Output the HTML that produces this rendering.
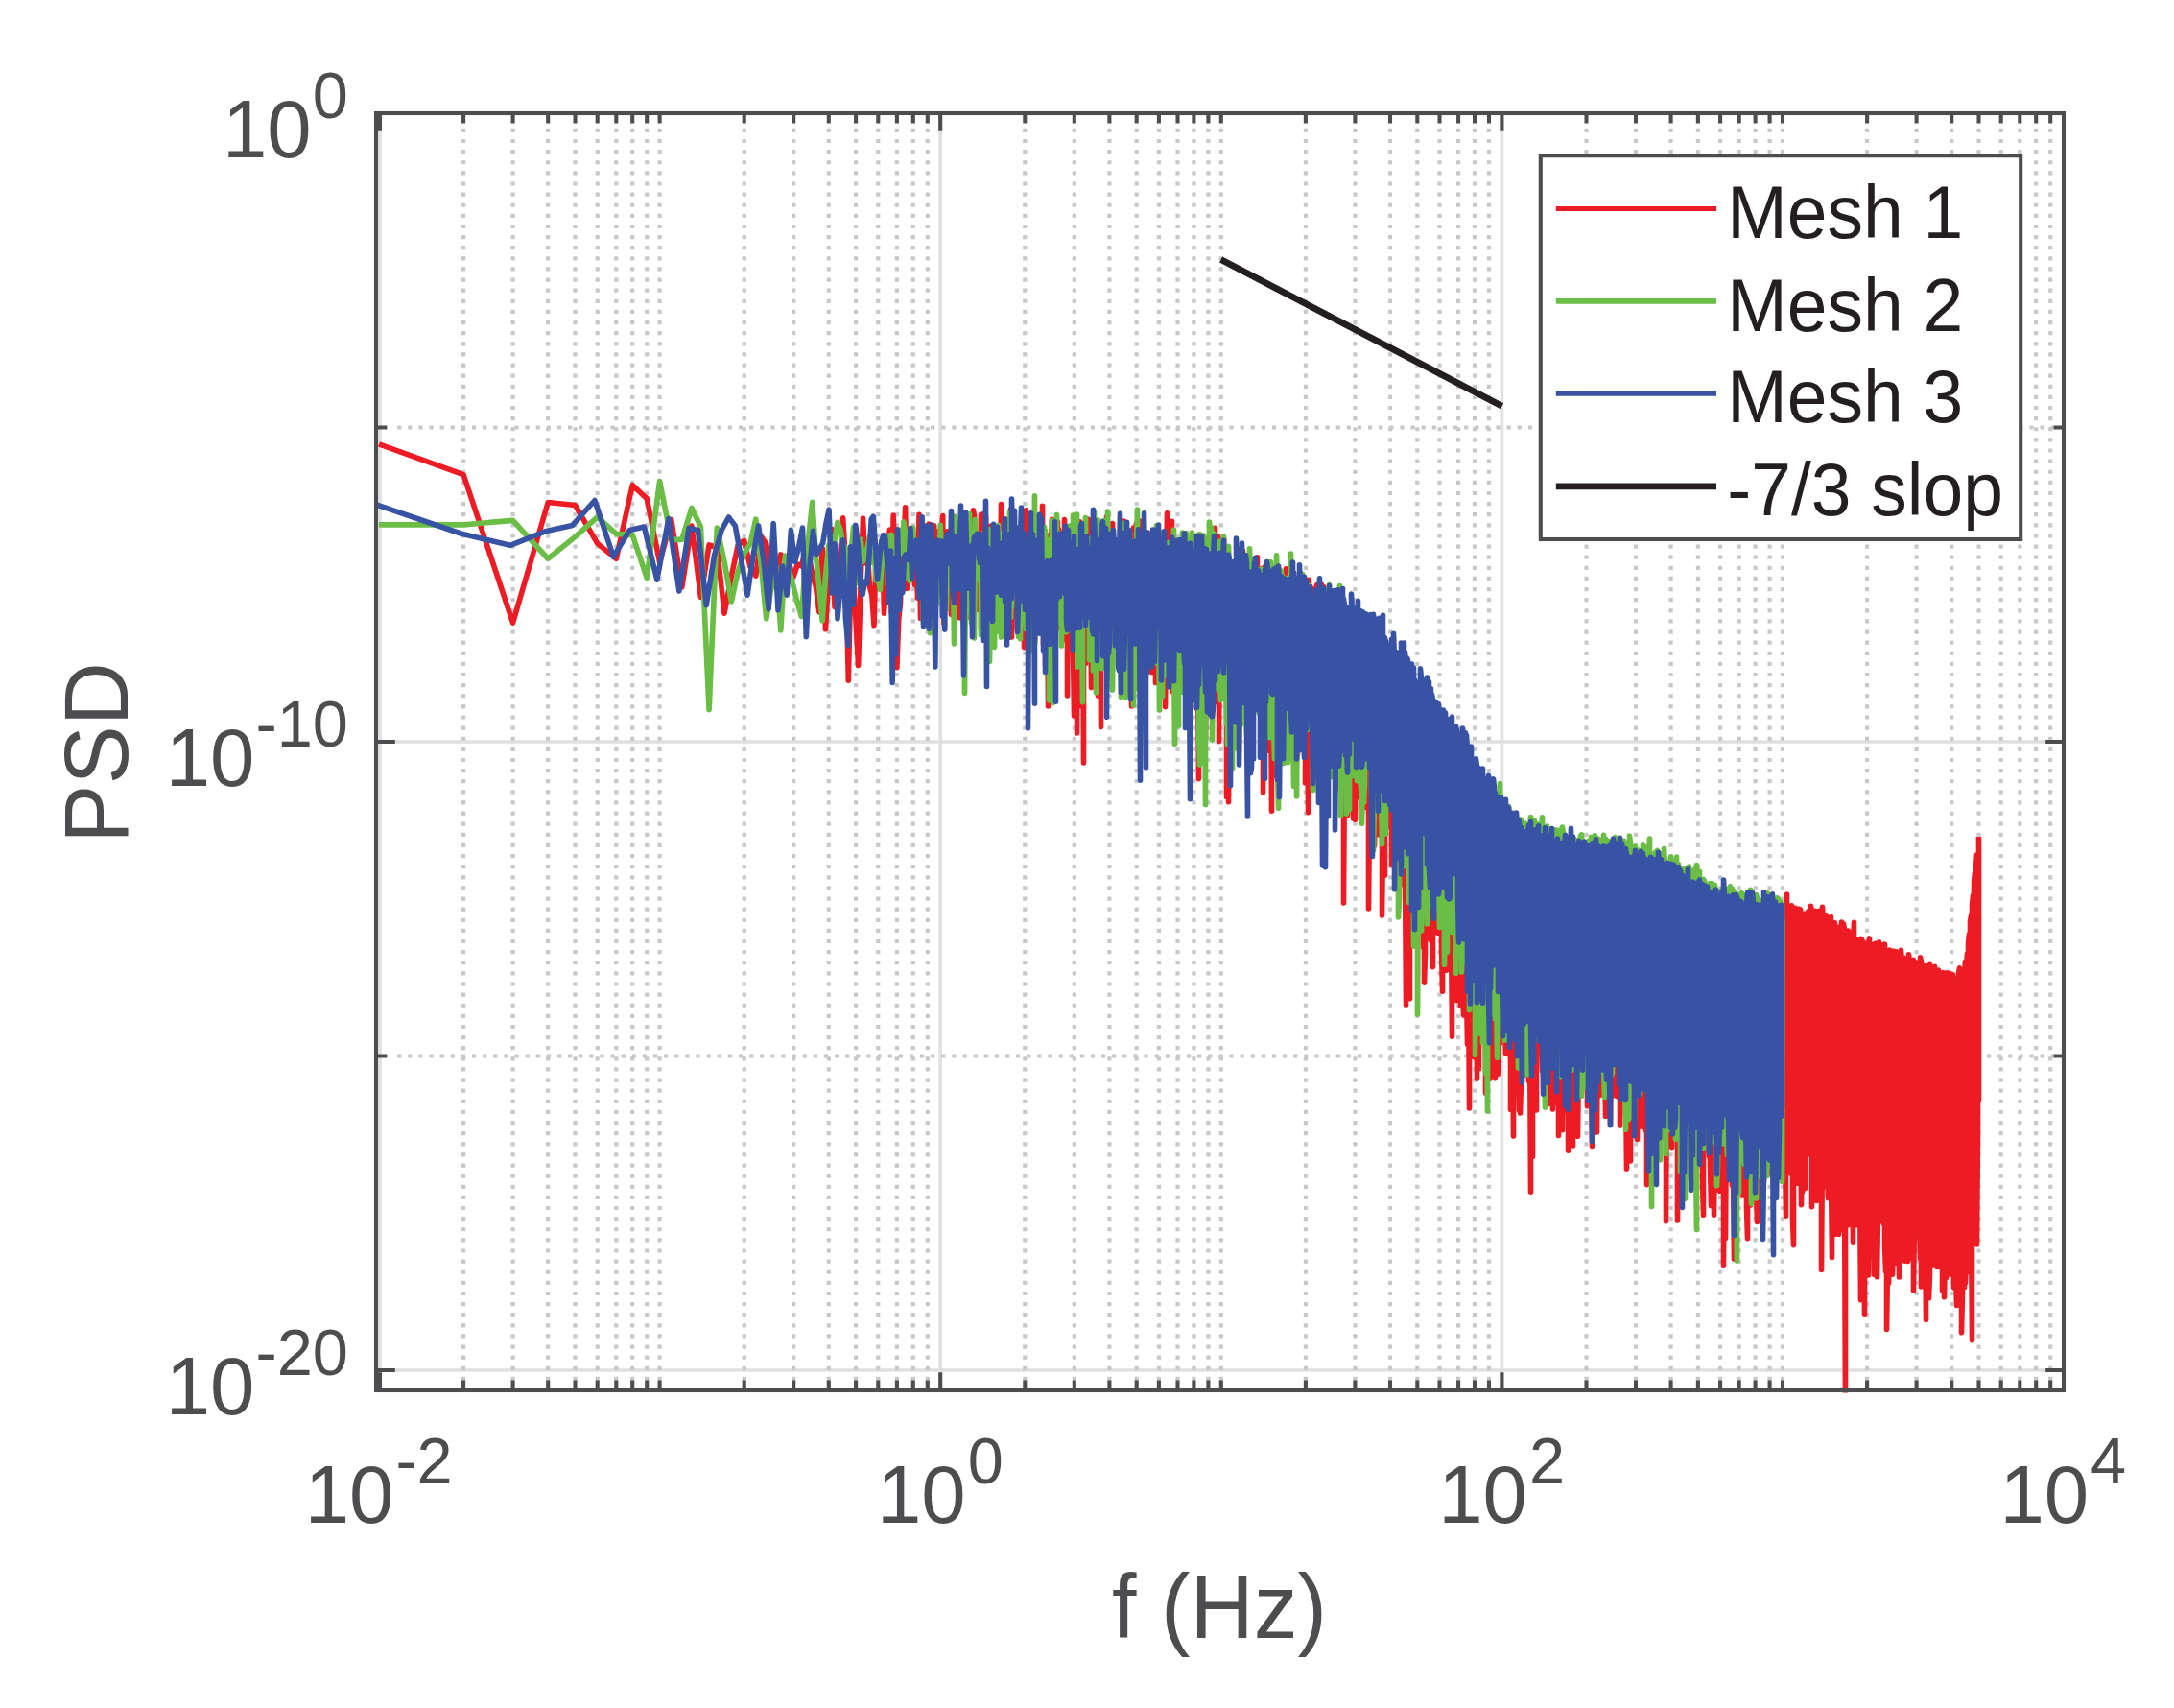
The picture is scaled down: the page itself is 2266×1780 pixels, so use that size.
<!DOCTYPE html>
<html lang="en">
<head>
<meta charset="utf-8">
<title>PSD spectra - mesh comparison</title>
<style>
html,body{margin:0;padding:0;background:#fff;}
body{width:2266px;height:1780px;overflow:hidden;font-family:"Liberation Sans",sans-serif;}
svg{display:block;}
svg text{font-family:"Liberation Sans",sans-serif;}
</style>
</head>
<body>
<svg width="2266" height="1780" viewBox="0 0 2266 1780">
<rect x="0" y="0" width="2266" height="1780" fill="#ffffff"/>
<defs>
<clipPath id="axclip"><rect x="392.0" y="118.0" width="1759.0" height="1333.5"/></clipPath>
</defs>
<g fill="none" stroke-width="4.2">
<path d="M396.0 118.0V1449.0M980.2 118.0V1449.0M1565.4 118.0V1449.0M392.0 773.0H2151.0M392.0 1428.0H2151.0" stroke="#dfe0e1" stroke-width="3.6"/>
<path d="M483.1 133.8V1449.0M534.6 133.8V1449.0M571.2 133.8V1449.0M599.5 133.8V1449.0M622.7 133.8V1449.0M642.3 133.8V1449.0M659.2 133.8V1449.0M674.2 133.8V1449.0M775.7 133.8V1449.0M827.2 133.8V1449.0M863.8 133.8V1449.0M892.1 133.8V1449.0M915.3 133.8V1449.0M934.9 133.8V1449.0M951.8 133.8V1449.0M966.8 133.8V1449.0M1068.3 133.8V1449.0M1119.8 133.8V1449.0M1156.4 133.8V1449.0M1184.7 133.8V1449.0M1207.9 133.8V1449.0M1227.5 133.8V1449.0M1244.4 133.8V1449.0M1259.4 133.8V1449.0M1360.9 133.8V1449.0M1412.4 133.8V1449.0M1449.0 133.8V1449.0M1477.3 133.8V1449.0M1500.5 133.8V1449.0M1520.1 133.8V1449.0M1537.0 133.8V1449.0M1552.0 133.8V1449.0M1653.5 133.8V1449.0M1705.0 133.8V1449.0M1741.6 133.8V1449.0M1769.9 133.8V1449.0M1793.1 133.8V1449.0M1812.7 133.8V1449.0M1829.6 133.8V1449.0M1844.6 133.8V1449.0M1946.1 133.8V1449.0M1997.6 133.8V1449.0M2034.2 133.8V1449.0M2062.5 133.8V1449.0M2085.7 133.8V1449.0M2105.3 133.8V1449.0M2122.2 133.8V1449.0M2137.2 133.8V1449.0M687.6 133.8V1449.0M1272.8 133.8V1449.0M1858.0 133.8V1449.0" stroke="#c7c8ca" stroke-dasharray="4.2 6.92"/>
<path d="M414.1 445.5H2151.0M414.1 1100.5H2151.0" stroke="#c7c8ca" stroke-dasharray="4.2 6.92"/>
</g>
<g clip-path="url(#axclip)" fill="none" stroke-linejoin="round" stroke-linecap="butt">
<path d="M395.0 462.8L483.1 494.7L534.6 649.0L571.2 523.5L599.5 526.5L622.7 566.3L642.3 582.3L659.2 505.6L674.2 519.6L687.6 586.0L699.7 541.5L710.8 612.0L720.9 548.0L730.4 622.4L739.1 567.9L747.3 570.0L755.0 639.1L762.3 601.0L769.2 567.9L775.7 563.4L781.9 590.0L787.8 600.0L793.4 559.0L798.8 566.8L804.0 612.4L809.0 601.0L813.8 577.9L818.4 582.0L822.9 590.0L827.2 601.0L831.4 588.0L835.4 590.0L839.3 574.6L843.1 579.0L846.8 599.0L850.4 612.0L853.9 638.0L857.2 571.2L860.5 655.8L863.8 601.0L866.9 551.2L870.0 632.4L873.0 590.0L875.9 575.3L878.7 539.7L881.5 586.8L884.3 709.2L886.9 602.5L889.6 607.1L892.1 648.7L894.6 693.5L897.1 609.7L899.5 540.0L901.9 586.8L904.2 573.1L906.5 611.5L908.8 619.9L911.0 651.7L913.2 574.5L915.3 584.6L917.4 590.3L919.5 564.7L921.5 639.2L923.5 604.9L925.5 570.1L927.4 552.1L929.3 638.7L931.2 537.1L933.0 583.9L934.9 695.6L936.7 645.6L938.5 628.5L940.2 561.8L941.9 571.8L943.6 528.8L945.3 613.5L947.0 604.5L948.6 568.0L950.2 582.0L951.8 567.3L953.4 609.4L955.0 579.5L956.5 623.2L958.0 536.4L959.5 644.4L961.0 624.1L962.5 568.8L964.0 642.5L965.4 556.3L966.8 568.6L968.2 546.1L969.6 563.5L971.0 576.3L972.3 606.2L973.7 547.8L975.0 595.9L976.3 573.5L977.6 605.6L978.9 553.4L980.2 577.1L981.5 554.7L982.7 537.6L984.0 650.3L985.5 558.4L986.5 580.9L987.5 553.8L988.5 569.5L989.5 599.8L991.5 640.4L992.5 538.2L993.5 586.4L994.5 601.0L995.5 547.5L996.5 612.8L997.5 547.4L999.5 575.0L1000.5 643.9L1001.5 639.8L1002.5 539.9L1003.5 570.1L1004.5 622.5L1005.5 583.5L1006.5 639.8L1007.5 619.4L1008.5 633.8L1009.5 542.6L1010.5 574.3L1011.5 643.6L1012.5 635.1L1013.5 619.4L1014.5 531.9L1015.5 537.4L1016.5 566.7L1017.5 635.6L1018.5 605.4L1019.5 578.8L1020.5 610.1L1021.5 610.3L1022.5 536.3L1022.5 654.9L1023.5 556.8L1024.5 535.9L1025.5 594.2L1026.5 594.4L1027.5 538.0L1028.5 589.1L1029.5 612.7L1030.5 639.9L1030.5 566.8L1031.5 592.4L1032.5 548.3L1033.5 581.2L1034.5 640.6L1035.5 557.4L1035.5 601.1L1036.5 561.6L1037.5 616.9L1038.5 581.6L1039.5 574.9L1039.5 567.6L1040.5 622.1L1041.5 630.5L1042.5 595.1L1043.5 525.5L1043.5 642.0L1044.5 589.8L1045.5 542.8L1046.5 657.3L1046.5 582.6L1047.5 613.3L1048.5 600.8L1049.5 582.2L1049.5 612.3L1050.5 546.1L1051.5 588.9L1052.5 626.2L1052.5 564.5L1053.5 530.7L1054.5 579.3L1054.5 663.9L1055.5 546.1L1056.5 558.8L1056.5 554.4L1057.5 590.0L1058.5 553.1L1059.5 571.0L1059.5 576.1L1060.5 655.7L1061.5 596.8L1061.5 595.6L1062.5 575.1L1063.5 554.4L1063.5 580.3L1064.5 581.4L1065.5 613.6L1065.5 602.6L1066.5 596.5L1067.5 600.7L1067.5 674.6L1068.5 585.8L1068.5 570.2L1069.5 531.8L1070.5 559.6L1070.5 618.3L1071.5 586.4L1072.5 600.6L1072.5 580.0L1073.5 579.1L1073.5 625.0L1074.5 566.6L1075.5 676.9L1075.5 591.5L1076.5 576.6L1076.5 647.6L1077.5 561.6L1078.5 668.4L1078.5 568.5L1079.5 564.2L1079.5 626.8L1080.5 587.8L1080.5 566.6L1081.5 572.3L1082.5 552.7L1082.5 637.3L1083.5 647.3L1083.5 553.2L1084.5 592.1L1084.5 622.4L1085.5 546.2L1086.5 577.1L1086.5 527.3L1087.5 658.3L1087.5 672.0L1088.5 608.5L1088.5 578.3L1089.5 661.6L1089.5 693.2L1090.5 614.5L1090.5 607.4L1091.5 558.1L1091.5 613.7L1092.5 735.9L1093.5 645.8L1093.5 617.1L1094.5 577.8L1094.5 581.6L1095.5 589.5L1095.5 564.7L1096.5 541.4L1096.5 621.1L1097.5 642.4L1097.5 593.0L1098.5 565.2L1098.5 613.9L1099.5 660.3L1099.5 588.6L1100.5 549.0L1100.5 597.0L1101.5 630.2L1101.5 606.7L1102.5 543.9L1102.5 588.5L1103.5 556.0L1103.5 551.6L1104.5 558.7L1104.5 654.4L1105.5 617.9L1105.5 572.9L1106.5 577.2L1106.5 625.2L1107.5 615.1L1107.5 596.1L1108.5 613.6L1108.5 618.1L1109.5 666.7L1109.5 541.6L1110.5 576.7L1110.5 633.3L1111.5 625.1L1111.5 583.1L1112.5 671.8L1112.5 725.0L1113.5 602.0L1113.5 563.5L1114.5 584.6L1114.5 587.5L1115.5 598.5L1115.5 582.1L1116.5 586.9L1116.5 633.2L1117.5 643.4L1117.5 623.8L1118.5 558.8L1118.5 678.2L1119.5 745.9L1119.5 614.9L1120.5 574.1L1120.5 625.9L1121.5 657.2L1121.5 573.3L1122.5 552.8L1122.5 764.0L1123.5 637.0L1123.5 589.8L1124.5 636.9L1124.5 688.5L1125.5 671.6L1125.5 543.8L1126.5 602.6L1126.5 735.6L1127.5 596.0L1127.5 580.8L1128.5 551.6L1128.5 577.2L1129.5 795.1L1129.5 613.7L1130.5 587.0L1130.5 592.9L1131.5 691.5L1131.5 572.8L1132.5 547.8L1132.5 578.0L1133.5 613.0L1133.5 557.6L1134.5 541.4L1134.5 637.9L1135.5 584.0L1135.5 573.8L1136.5 589.5L1136.5 604.1L1137.5 716.6L1137.5 577.9L1138.5 556.2L1138.5 634.4L1139.5 662.9L1139.5 586.5L1140.5 572.4L1140.5 658.4L1141.5 638.0L1141.5 556.7L1142.5 572.3L1142.5 589.9L1143.5 698.8L1143.5 617.6L1144.5 575.7L1144.5 724.9L1145.5 629.8L1145.5 547.9L1146.5 573.1L1146.5 591.3L1147.5 757.6L1147.5 592.5L1148.5 570.1L1148.5 643.1L1149.5 648.9L1149.5 578.2L1150.5 573.7L1150.5 687.9L1151.5 628.7L1151.5 579.7L1152.5 573.6L1152.5 632.7L1153.5 562.2L1153.5 538.5L1154.5 570.0L1154.5 633.5L1155.5 632.3L1155.5 574.4L1156.5 585.6L1156.5 646.6L1157.5 638.3L1157.5 574.1L1158.5 596.7L1158.5 657.6L1159.5 616.0L1159.5 545.5L1160.5 579.9L1160.5 625.6L1161.5 655.1L1161.5 569.0L1162.5 586.0L1162.5 626.0L1163.5 610.0L1163.5 584.4L1164.5 577.6L1164.5 632.1L1165.5 602.3L1165.5 565.8L1166.5 595.1L1166.5 638.5L1167.5 613.7L1167.5 572.1L1168.5 548.9L1168.5 612.8L1169.5 608.1L1169.5 570.9L1170.5 581.1L1170.5 702.4L1171.5 673.6L1171.5 543.0L1172.5 548.0L1172.5 639.9L1173.5 665.4L1173.5 631.5L1174.5 574.9L1174.5 710.9L1175.5 604.5L1175.5 560.8L1176.5 603.5L1176.5 652.9L1177.5 652.9L1177.5 581.7L1178.5 592.3L1178.5 631.9L1179.5 735.9L1179.5 604.7L1180.5 567.8L1180.5 644.3L1181.5 643.0L1181.5 550.1L1182.5 600.6L1182.5 679.0L1183.5 614.8L1183.5 549.6L1184.5 545.3L1184.5 601.7L1185.5 626.9L1185.5 596.0L1186.5 576.1L1186.5 696.5L1187.5 610.4L1187.5 542.8L1188.5 561.3L1188.5 620.8L1189.5 628.2L1189.5 566.8L1190.5 553.4L1190.5 676.4L1191.5 655.2L1191.5 590.0L1192.5 576.2L1192.5 673.2L1193.5 636.3L1193.5 591.3L1194.5 584.1L1194.5 680.8L1195.5 664.1L1195.5 577.5L1196.5 579.3L1196.5 646.6L1197.5 626.1L1197.5 555.8L1198.5 579.7L1198.5 628.8L1199.5 665.0L1199.5 594.9L1200.5 579.7L1200.5 700.4L1201.5 636.7L1201.5 561.5L1202.5 597.9L1202.5 682.9L1203.5 696.3L1203.5 570.8L1204.5 578.4L1204.5 711.4L1205.5 694.6L1205.5 615.9L1206.5 588.0L1206.5 655.3L1207.5 682.1L1207.5 588.6L1208.5 606.1L1208.5 654.4L1209.5 703.1L1209.5 579.4L1210.5 555.7L1210.5 668.3L1211.5 696.1L1211.5 601.3L1212.5 585.2L1212.5 647.1L1213.5 629.5L1213.5 586.6L1214.5 583.7L1214.5 736.6L1215.5 653.2L1215.5 590.6L1216.5 534.8L1216.5 653.3L1217.5 670.7L1217.5 566.5L1218.5 579.4L1218.5 627.9L1219.5 645.1L1219.5 584.8L1220.5 547.3L1220.5 691.4L1221.5 672.3L1221.5 543.3L1222.5 622.9L1222.5 721.1L1223.5 671.4L1223.5 579.8L1224.5 602.7L1224.5 666.5L1225.5 639.7L1225.5 579.3L1226.5 579.1L1226.5 692.0L1227.5 694.2L1227.5 570.6L1228.5 570.2L1228.5 666.4L1229.5 701.1L1229.5 568.4L1230.5 582.3L1230.5 625.1L1231.5 661.0L1231.5 573.8L1232.5 601.2L1232.5 699.8L1233.5 673.6L1233.5 558.7L1234.5 588.6L1234.5 676.9L1235.5 637.6L1235.5 589.4L1236.5 619.9L1236.5 696.6L1237.5 692.6L1237.5 562.5L1238.5 568.3L1238.5 624.9L1239.5 648.6L1239.5 583.9L1240.5 583.1L1240.5 710.4L1241.5 661.4L1241.5 631.8L1242.5 563.4L1242.5 680.5L1243.5 635.7L1243.5 595.9L1244.5 573.7L1244.5 662.2L1245.5 722.8L1245.5 584.2L1246.5 583.8L1246.5 647.3L1247.5 738.4L1247.5 589.9L1248.5 573.1L1248.5 704.0L1249.5 811.6L1249.5 585.3L1250.5 587.4L1250.5 664.8L1251.5 629.6L1251.5 587.9L1252.5 573.5L1252.5 638.0L1253.5 650.2L1253.5 570.8L1254.5 561.1L1254.5 757.7L1255.5 674.3L1255.5 572.8L1256.5 592.0L1256.5 769.8L1257.5 679.2L1257.5 562.4L1258.5 582.9L1258.5 666.6L1259.5 689.3L1259.5 581.8L1260.5 589.4L1260.5 694.5L1261.5 684.1L1261.5 577.9L1262.5 618.9L1262.5 718.6L1263.5 647.4L1263.5 585.5L1264.5 557.9L1264.5 627.6L1265.5 638.7L1265.5 592.1L1266.5 550.4L1266.5 661.5L1267.5 667.4L1267.5 610.6L1268.5 580.1L1268.5 671.3L1269.5 732.4L1269.5 559.0L1270.5 565.0L1270.5 772.6L1271.5 635.4L1271.5 594.8L1272.5 582.8L1272.5 644.6L1273.5 680.9L1273.5 577.1L1274.5 609.2L1274.5 713.7L1275.5 667.2L1275.5 561.4L1276.5 600.9L1276.5 690.3L1277.5 652.5L1277.5 587.8L1278.5 581.4L1278.5 830.5L1279.5 711.3L1279.5 600.0L1280.5 598.1L1280.5 835.7L1281.5 757.4L1281.5 583.9L1282.5 587.6L1282.5 707.3L1283.5 712.1L1283.5 598.4L1284.5 589.6L1284.5 663.3L1285.5 652.2L1285.5 588.2L1286.5 588.3L1286.5 701.8L1287.5 696.2L1287.5 608.3L1288.5 584.6L1288.5 732.5L1289.5 686.4L1289.5 593.5L1290.5 588.7L1290.5 734.0L1291.5 783.4L1291.5 572.3L1292.5 605.6L1292.5 715.2L1293.5 719.6L1293.5 586.2L1294.5 606.1L1294.5 704.7L1295.5 692.5L1295.5 574.2L1296.5 609.9L1296.5 664.8L1297.5 709.7L1297.5 596.4L1298.5 599.6L1298.5 684.9L1299.5 735.5L1299.5 591.2L1300.5 587.0L1300.5 688.7L1301.5 719.2L1301.5 593.8L1302.5 595.2L1302.5 701.7L1303.5 753.6L1303.5 605.3L1304.5 592.2L1304.5 705.9L1305.5 741.8L1305.5 585.3L1306.5 595.9L1306.5 724.3L1307.5 724.8L1307.5 590.9L1308.5 608.6L1308.5 688.4L1309.5 693.7L1309.5 596.6L1310.5 580.9L1310.5 726.7L1311.5 715.9L1311.5 606.0L1312.5 599.3L1312.5 699.4L1313.5 694.2L1313.5 611.0L1314.5 618.2L1314.5 684.3L1315.5 782.7L1315.5 592.6L1316.5 608.0L1316.5 825.7L1317.5 674.7L1317.5 607.7L1318.5 590.6L1318.5 680.3L1319.5 746.7L1319.5 612.9L1320.5 606.0L1320.5 782.6L1321.5 670.3L1321.5 621.7L1322.5 606.9L1322.5 705.6L1323.5 758.7L1323.5 620.0L1324.5 593.0L1324.5 697.6L1325.5 845.2L1325.5 612.4L1326.5 597.4L1326.5 686.6L1327.5 692.5L1327.5 606.1L1328.5 605.6L1328.5 691.1L1329.5 756.6L1329.5 611.0L1330.5 605.6L1330.5 808.5L1331.5 738.7L1331.5 604.2L1332.5 592.0L1332.5 717.7L1333.5 747.3L1333.5 616.1L1334.5 611.8L1334.5 721.6L1335.5 728.3L1335.5 599.7L1336.5 608.5L1336.5 736.1L1337.5 795.5L1337.5 618.8L1338.5 614.6L1338.5 726.5L1339.5 766.6L1339.5 620.6L1340.5 592.8L1340.5 761.8L1341.5 755.9L1341.5 615.1L1342.5 610.0L1342.5 745.7L1343.5 695.6L1343.5 608.9L1344.5 618.9L1344.5 700.3L1345.5 735.4L1345.5 600.5L1346.5 616.3L1346.5 740.2L1347.5 705.1L1347.5 608.3L1348.5 616.7L1348.5 740.6L1349.5 747.6L1349.5 629.6L1350.5 616.8L1350.5 729.1L1351.5 763.4L1351.5 631.6L1352.5 614.8L1352.5 786.6L1353.5 713.0L1353.5 618.2L1354.5 607.2L1354.5 779.0L1355.5 748.5L1355.5 621.5L1356.5 612.4L1356.5 763.0L1357.5 776.4L1357.5 622.4L1358.5 620.7L1358.5 718.4L1359.5 785.8L1359.5 620.7L1360.5 604.8L1360.5 816.0L1361.5 721.4L1361.5 622.3L1362.5 639.8L1362.5 717.0L1363.5 846.8L1363.5 623.8L1364.5 604.3L1364.5 804.1L1365.5 756.3L1365.5 610.8L1366.5 612.9L1366.5 713.8L1367.5 705.8L1367.5 620.6L1368.5 620.6L1368.5 813.7L1369.5 740.5L1369.5 621.8L1370.5 624.6L1370.5 741.1L1371.5 732.0L1371.5 614.4L1372.5 609.8L1372.5 703.6L1373.5 712.4L1373.5 617.5L1374.5 615.2L1374.5 755.2L1375.5 747.3L1375.5 640.5L1376.5 623.2L1376.5 746.1L1377.5 811.8L1377.5 609.3L1378.5 635.4L1378.5 771.0L1379.5 753.8L1379.5 611.5L1380.5 627.2L1380.5 751.3L1381.5 757.2L1381.5 626.6L1382.5 639.1L1382.5 833.9L1383.5 799.4L1383.5 624.3L1384.5 633.0L1384.5 811.4L1385.5 740.7L1385.5 641.5L1386.5 621.4L1386.5 802.6L1387.5 788.0L1387.5 641.3L1388.5 623.3L1388.5 738.0L1389.5 755.7L1389.5 639.3L1390.5 659.8L1390.5 762.4L1391.5 780.0L1391.5 659.4L1392.5 648.3L1392.5 765.6L1393.5 804.7L1393.5 657.2L1394.5 658.6L1394.5 770.1L1395.5 760.6L1395.5 635.3L1396.5 649.5L1396.5 821.9L1397.5 781.0L1397.5 660.7L1398.5 671.3L1398.5 740.9L1399.5 808.9L1399.5 653.0L1400.5 647.9L1400.5 940.9L1401.5 792.1L1401.5 662.2L1402.5 643.8L1402.5 813.2L1403.5 809.1L1403.5 646.1L1404.5 657.6L1404.5 849.4L1405.5 769.9L1405.5 669.0L1406.5 647.0L1406.5 791.2L1407.5 803.1L1407.5 674.4L1408.5 682.0L1408.5 825.5L1409.5 810.6L1409.5 662.1L1410.5 675.0L1410.5 853.1L1411.5 816.3L1411.5 678.9L1412.5 673.6L1412.5 854.3L1413.5 746.5L1413.5 681.3L1414.5 680.8L1414.5 777.0L1415.5 820.7L1415.5 681.8L1416.5 674.3L1416.5 830.7L1417.5 826.5L1417.5 696.9L1418.5 699.3L1418.5 809.9L1419.5 846.8L1419.5 705.9L1420.5 693.8L1420.5 812.0L1421.5 825.2L1421.5 707.6L1422.5 691.2L1422.5 816.2L1423.5 832.8L1423.5 701.5L1424.5 681.8L1424.5 841.6L1425.5 809.1L1425.5 703.2L1426.5 710.2L1426.5 947.0L1427.5 847.7L1427.5 690.4L1428.5 696.9L1428.5 851.3L1429.5 824.2L1429.5 704.8L1430.5 691.7L1430.5 805.2L1431.5 790.8L1431.5 707.5L1432.5 723.5L1432.5 881.1L1433.5 840.8L1433.5 711.1L1434.5 714.4L1434.5 868.4L1435.5 812.7L1435.5 716.7L1436.5 703.7L1436.5 869.7L1437.5 847.4L1437.5 698.2L1438.5 728.5L1438.5 820.0L1439.5 843.6L1439.5 722.6L1440.5 724.1L1440.5 953.9L1441.5 879.5L1441.5 719.6L1442.5 705.8L1442.5 898.8L1443.5 912.3L1443.5 728.5L1444.5 730.1L1444.5 826.0L1445.5 847.5L1445.5 733.6L1446.5 730.9L1446.5 861.6L1447.5 828.3L1447.5 726.8L1448.5 733.6L1448.5 829.1L1449.5 835.8L1449.5 720.6L1450.5 730.5L1450.5 901.3L1451.5 835.0L1451.5 737.6L1452.5 734.3L1452.5 874.6L1453.5 894.9L1453.5 718.5L1454.5 731.1L1454.5 895.6L1455.5 888.8L1455.5 731.6L1456.5 752.1L1456.5 922.9L1457.5 864.3L1457.5 753.7L1458.5 739.4L1458.5 900.8L1459.5 878.4L1459.5 732.5L1460.5 760.3L1460.5 890.0L1461.5 921.8L1461.5 747.4L1462.5 747.3L1462.5 846.1L1463.5 874.1L1463.5 749.8L1464.5 766.2L1464.5 911.7L1465.5 1047.3L1465.5 749.4L1466.5 761.8L1466.5 874.5L1467.5 932.8L1467.5 757.6L1468.5 768.0L1468.5 892.3L1469.5 1040.7L1469.5 758.2L1470.5 752.2L1470.5 875.2L1471.5 920.0L1471.5 747.9L1472.5 767.4L1472.5 956.4L1473.5 885.8L1473.5 759.4L1474.5 770.7L1474.5 948.4L1475.5 971.0L1475.5 785.7L1476.5 757.7L1476.5 915.6L1477.5 936.9L1477.5 773.8L1478.5 767.3L1478.5 947.0L1479.5 950.7L1479.5 775.7L1480.5 759.9L1480.5 929.4L1481.5 902.4L1481.5 795.9L1482.5 762.7L1482.5 964.8L1483.5 987.4L1483.5 780.7L1484.5 781.0L1484.5 1024.1L1485.5 993.5L1485.5 775.9L1486.5 780.8L1486.5 925.2L1487.5 969.0L1487.5 798.1L1488.5 778.7L1488.5 978.0L1489.5 926.0L1489.5 798.2L1490.5 796.0L1490.5 942.0L1491.5 980.3L1491.5 791.0L1492.5 800.3L1492.5 954.3L1493.5 1007.6L1493.5 802.2L1494.5 796.0L1494.5 916.8L1495.5 933.6L1495.5 791.8L1496.5 800.9L1496.5 931.4L1497.5 950.7L1497.5 801.8L1498.5 804.7L1498.5 972.1L1499.5 919.8L1499.5 791.8L1500.5 815.9L1500.5 959.3L1501.5 940.5L1501.5 808.9L1502.5 813.9L1502.5 989.0L1503.5 1033.3L1503.5 817.5L1504.5 821.7L1504.5 984.8L1505.5 972.5L1505.5 799.5L1506.5 818.0L1506.5 935.5L1507.5 1011.2L1507.5 814.1L1508.5 829.0L1508.5 994.5L1509.5 976.9L1509.5 795.9L1510.5 831.1L1510.5 990.2L1511.5 989.2L1511.5 830.6L1512.5 809.5L1512.5 969.9L1513.5 1080.2L1513.5 818.9L1514.5 819.5L1514.5 1027.0L1515.5 974.1L1515.5 807.4L1516.5 819.4L1516.5 989.1L1517.5 1015.7L1517.5 829.1L1518.5 830.4L1518.5 1042.6L1519.5 1036.4L1519.5 822.1L1520.5 839.5L1520.5 998.9L1521.5 1008.4L1521.5 835.0L1522.5 830.9L1522.5 1048.5L1523.5 1036.8L1523.5 848.2L1524.5 848.2L1524.5 1020.1L1525.5 1058.0L1525.5 850.2L1526.5 848.6L1526.5 982.9L1527.5 1052.1L1527.5 857.9L1528.5 842.2L1528.5 1031.3L1529.5 1088.2L1529.5 840.0L1530.5 852.8L1530.5 1025.1L1531.5 1154.9L1531.5 854.7L1532.5 857.1L1532.5 1039.1L1533.5 1020.8L1533.5 855.9L1534.5 868.0L1534.5 1067.9L1535.5 1053.0L1535.5 855.5L1536.5 863.0L1536.5 1101.6L1537.5 1047.2L1537.5 881.9L1538.5 878.1L1538.5 1027.8L1539.5 1124.3L1539.5 879.8L1540.5 882.6L1540.5 1058.5L1541.5 1113.9L1541.5 885.4L1542.5 873.9L1542.5 1060.2L1543.5 1072.7L1543.5 872.8L1544.5 874.0L1544.5 1046.4L1545.5 1049.3L1545.5 880.2L1546.5 866.8L1546.5 1082.7L1547.5 1065.4L1547.5 881.9L1548.5 887.8L1548.5 1138.9L1549.5 1099.1L1549.5 878.5L1550.5 874.4L1550.5 1023.6L1551.5 1090.4L1551.5 875.6L1552.5 893.2L1552.5 1106.6L1553.5 1124.0L1553.5 899.0L1554.5 879.3L1554.5 1078.7L1555.5 1073.1L1555.5 882.3L1556.5 887.9L1556.5 1033.7L1557.5 1088.1L1557.5 886.6L1558.5 883.3L1558.5 1123.8L1559.5 1073.5L1559.5 883.2L1560.5 889.8L1560.5 1083.7L1561.5 1119.2L1561.5 903.8L1562.5 884.1L1562.5 1040.6L1563.5 1087.4L1563.5 907.6L1564.5 893.4L1564.5 1055.6L1565.5 1022.5L1565.5 894.4L1566.5 907.0L1566.5 1071.7L1567.5 1047.2L1567.5 893.9L1568.5 883.1L1568.5 1054.0L1569.5 1097.6L1569.5 894.1L1570.5 901.9L1570.5 1060.6L1571.5 1066.6L1571.5 893.8L1572.5 882.1L1572.5 1097.8L1573.5 1096.4L1573.5 889.9L1574.5 899.6L1574.5 1156.3L1575.5 1027.0L1575.5 893.5L1576.5 891.9L1576.5 1071.8L1577.5 1184.1L1577.5 902.5L1578.5 907.2L1578.5 1118.8L1579.5 1116.3L1579.5 903.6L1580.5 898.3L1580.5 1085.6L1581.5 1042.5L1581.5 893.0L1582.5 880.9L1582.5 1114.5L1583.5 1157.1L1583.5 907.2L1584.5 896.8L1584.5 1159.9L1585.5 1126.7L1585.5 907.3L1586.5 914.4L1586.5 1070.0L1587.5 1052.0L1587.5 914.4L1588.5 904.5L1588.5 1110.7L1589.5 1080.4L1589.5 889.7L1590.5 904.0L1590.5 1119.9L1591.5 1095.8L1591.5 901.5L1592.5 905.9L1592.5 1104.3L1593.5 1126.6L1593.5 890.0L1594.5 905.0L1594.5 1068.1L1595.5 1242.2L1595.5 897.3L1596.5 908.9L1596.5 1066.4L1597.5 1205.6L1597.5 912.6L1598.5 897.6L1598.5 1105.1L1599.5 1092.1L1599.5 905.9L1600.5 900.6L1600.5 1101.0L1601.5 1157.0L1601.5 898.6L1602.5 917.4L1602.5 1065.6L1603.5 1064.9L1603.5 894.1L1604.5 896.2L1604.5 1048.4L1605.5 1083.5L1605.5 906.5L1606.5 896.2L1606.5 1066.9L1607.5 1115.9L1607.5 910.9L1608.5 899.5L1608.5 1081.9L1609.5 1131.9L1609.5 901.3L1610.5 902.5L1610.5 1135.2L1611.5 1037.6L1611.5 904.1L1612.5 909.6L1612.5 1123.0L1613.5 1118.8L1613.5 913.7L1614.5 913.0L1614.5 1150.5L1615.5 1139.0L1615.5 907.8L1616.5 901.6L1616.5 1124.2L1617.5 1047.2L1617.5 906.9L1618.5 900.0L1618.5 1155.9L1619.5 1107.0L1619.5 905.3L1620.5 902.2L1620.5 1098.4L1621.5 1094.5L1621.5 900.7L1622.5 904.2L1622.5 1149.7L1623.5 1074.2L1623.5 902.4L1624.5 901.2L1624.5 1183.4L1625.5 1110.9L1625.5 912.4L1626.5 908.2L1626.5 1135.3L1627.5 1053.6L1627.5 899.4L1628.5 896.4L1628.5 1177.6L1629.5 1081.7L1629.5 897.7L1630.5 902.6L1630.5 1138.6L1631.5 1063.5L1631.5 898.9L1632.5 903.7L1632.5 1157.6L1633.5 1084.1L1633.5 900.0L1634.5 913.8L1634.5 1199.1L1635.5 1158.4L1635.5 909.6L1636.5 899.0L1636.5 1099.9L1637.5 1100.2L1637.5 898.9L1638.5 895.7L1638.5 1091.3L1639.5 1194.0L1639.5 902.4L1640.5 911.1L1640.5 1079.8L1641.5 1121.1L1641.5 899.8L1642.5 912.2L1642.5 1155.7L1643.5 1123.7L1643.5 916.0L1644.5 905.9L1644.5 1184.3L1645.5 1107.7L1645.5 896.4L1646.5 904.3L1646.5 1115.4L1647.5 1089.4L1647.5 907.0L1648.5 903.3L1648.5 1074.1L1649.5 1125.9L1649.5 893.1L1650.5 901.1L1650.5 1099.8L1651.5 1117.7L1651.5 917.8L1652.5 911.3L1652.5 1069.6L1653.5 1061.7L1653.5 900.8L1654.5 905.0L1654.5 1152.8L1655.5 1123.2L1655.5 894.5L1656.5 909.5L1656.5 1091.2L1657.5 1120.7L1657.5 895.2L1658.5 918.8L1658.5 1133.4L1659.5 1194.5L1659.5 917.6L1660.5 912.5L1660.5 1112.5L1661.5 1108.4L1661.5 913.7L1662.5 912.7L1662.5 1110.7L1663.5 1121.3L1663.5 899.1L1664.5 908.5L1664.5 1179.9L1665.5 1067.8L1665.5 909.7L1666.5 910.4L1666.5 1133.9L1667.5 1141.4L1667.5 904.1L1668.5 897.5L1668.5 1103.3L1669.5 1104.6L1669.5 921.9L1670.5 899.2L1670.5 1140.3L1671.5 1092.1L1671.5 901.0L1672.5 899.5L1672.5 1075.9L1673.5 1163.5L1673.5 913.8L1674.5 897.6L1674.5 1085.2L1675.5 1118.9L1675.5 904.8L1676.5 908.2L1676.5 1146.2L1677.5 1105.5L1677.5 912.0L1678.5 907.2L1678.5 1171.4L1679.5 1076.9L1679.5 907.3L1680.5 909.8L1680.5 1142.0L1681.5 1120.5L1681.5 904.6L1682.5 905.6L1682.5 1117.3L1683.5 1071.0L1683.5 907.1L1684.5 899.7L1684.5 1117.2L1685.5 1142.6L1685.5 907.0L1686.5 908.9L1686.5 1110.6L1687.5 1134.4L1687.5 905.5L1688.5 915.6L1688.5 1173.1L1689.5 1132.6L1689.5 904.0L1690.5 910.1L1690.5 1127.4L1691.5 1114.3L1691.5 906.1L1692.5 920.4L1692.5 1095.6L1693.5 1118.7L1693.5 905.7L1694.5 921.9L1694.5 1122.8L1695.5 1218.1L1695.5 910.7L1696.5 906.3L1696.5 1133.5L1697.5 1110.0L1697.5 903.3L1698.5 907.4L1698.5 1110.0L1699.5 1210.0L1699.5 912.5L1700.5 908.9L1700.5 1138.2L1701.5 1121.6L1701.5 904.8L1702.5 917.3L1702.5 1156.1L1703.5 1178.0L1703.5 909.6L1704.5 902.8L1704.5 1144.7L1705.5 1178.9L1705.5 912.9L1706.5 916.1L1706.5 1187.5L1707.5 1085.6L1707.5 916.4L1708.5 916.8L1708.5 1131.8L1709.5 1139.3L1709.5 905.2L1710.5 922.8L1710.5 1110.1L1711.5 1174.2L1711.5 913.6L1712.5 915.7L1712.5 1161.6L1713.5 1099.0L1713.5 911.4L1714.5 906.2L1714.5 1129.2L1715.5 1178.1L1715.5 903.7L1716.5 916.7L1716.5 1234.6L1717.5 1187.1L1717.5 915.0L1718.5 915.6L1718.5 1162.9L1719.5 1181.1L1719.5 929.7L1720.5 913.0L1720.5 1188.3L1721.5 1169.1L1721.5 917.4L1722.5 921.0L1722.5 1168.5L1723.5 1133.2L1723.5 916.3L1724.5 918.5L1724.5 1116.6L1725.5 1167.0L1725.5 921.7L1726.5 925.9L1726.5 1137.5L1727.5 1190.3L1727.5 916.9L1728.5 924.5L1728.5 1106.9L1729.5 1167.3L1729.5 917.6L1730.5 922.1L1730.5 1120.7L1731.5 1137.5L1731.5 928.4L1732.5 931.1L1732.5 1170.7L1733.5 1157.7L1733.5 926.4L1734.5 932.0L1734.5 1185.2L1735.5 1124.3L1735.5 929.7L1736.5 916.0L1736.5 1272.7L1737.5 1119.8L1737.5 921.2L1738.5 910.0L1738.5 1128.5L1739.5 1185.2L1739.5 927.5L1740.5 934.3L1740.5 1157.9L1741.5 1175.9L1741.5 914.7L1742.5 928.3L1742.5 1195.6L1743.5 1145.2L1743.5 936.4L1744.5 921.4L1744.5 1131.7L1745.5 1152.7L1745.5 931.8L1746.5 935.4L1746.5 1161.0L1747.5 1147.9L1747.5 933.6L1748.5 937.0L1748.5 1271.9L1749.5 1143.6L1749.5 934.9L1750.5 923.6L1750.5 1172.7L1751.5 1158.1L1751.5 924.4L1752.5 934.2L1752.5 1247.5L1753.5 1209.7L1753.5 931.1L1754.5 935.4L1754.5 1184.7L1755.5 1175.4L1755.5 938.0L1756.5 933.7L1756.5 1210.1L1757.5 1155.6L1757.5 935.3L1758.5 927.0L1758.5 1145.6L1759.5 1187.6L1759.5 934.2L1760.5 946.1L1760.5 1144.9L1761.5 1128.2L1761.5 937.8L1762.5 938.5L1762.5 1199.1L1763.5 1232.2L1763.5 946.8L1764.5 947.9L1764.5 1191.0L1765.5 1230.7L1765.5 935.7L1766.5 939.6L1766.5 1153.6L1767.5 1213.4L1767.5 949.3L1768.5 936.6L1768.5 1148.9L1769.5 1154.3L1769.5 949.8L1770.5 944.4L1770.5 1138.8L1771.5 1208.7L1771.5 948.7L1772.5 951.5L1772.5 1146.3L1773.5 1183.9L1773.5 945.1L1774.5 948.1L1774.5 1229.9L1775.5 1266.3L1775.5 954.5L1776.5 942.0L1776.5 1179.5L1777.5 1132.3L1777.5 950.5L1778.5 945.1L1778.5 1160.4L1779.5 1164.6L1779.5 955.2L1780.5 948.5L1780.5 1170.3L1781.5 1205.7L1781.5 944.5L1782.5 942.1L1782.5 1213.8L1783.5 1256.7L1783.5 957.9L1784.5 950.3L1784.5 1167.3L1785.5 1214.5L1785.5 954.7L1786.5 953.8L1786.5 1266.2L1787.5 1204.5L1787.5 950.5L1788.5 953.6L1788.5 1196.8L1789.5 1167.4L1789.5 954.5L1790.5 946.4L1790.5 1224.0L1791.5 1172.7L1791.5 943.6L1792.5 954.9L1792.5 1241.2L1793.5 1173.7L1793.5 954.0L1794.5 955.3L1794.5 1189.0L1795.5 1199.3L1795.5 955.3L1796.5 962.9L1796.5 1318.2L1797.5 1192.1L1797.5 957.8L1798.5 942.1L1798.5 1290.5L1799.5 1164.8L1799.5 958.6L1800.5 960.5L1800.5 1227.8L1801.5 1201.2L1801.5 955.9L1802.5 956.9L1802.5 1166.1L1803.5 1228.5L1803.5 961.8L1804.5 953.6L1804.5 1211.5L1805.5 1235.4L1805.5 958.1L1806.5 957.1L1806.5 1224.0L1807.5 1312.1L1807.5 958.8L1808.5 957.1L1808.5 1168.8L1809.5 1202.8L1809.5 956.6L1810.5 950.9L1810.5 1190.9L1811.5 1179.6L1811.5 954.3L1812.5 948.1L1812.5 1164.3L1813.5 1198.0L1813.5 955.2L1814.5 961.5L1814.5 1223.2L1815.5 1168.4L1815.5 961.1L1816.5 958.7L1816.5 1244.9L1817.5 1172.6L1817.5 952.6L1818.5 952.0L1818.5 1241.7L1819.5 1160.5L1819.5 946.7L1820.5 959.4L1820.5 1258.3L1821.5 1290.7L1821.5 956.1L1822.5 952.9L1822.5 1172.1L1823.5 1205.2L1823.5 957.2L1824.5 953.9L1824.5 1256.0L1825.5 1216.0L1825.5 945.0L1826.5 952.1L1826.5 1191.7L1827.5 1189.9L1827.5 953.6L1828.5 957.2L1828.5 1183.9L1829.5 1163.7L1829.5 951.8L1830.5 952.9L1830.5 1243.2L1831.5 1273.5L1831.5 950.8L1832.5 957.9L1832.5 1190.1L1833.5 1169.8L1833.5 951.6L1834.5 956.2L1834.5 1242.6L1835.5 1200.6L1835.5 953.9L1836.5 954.9L1836.5 1208.0L1837.5 1200.9L1837.5 950.7L1838.5 953.3L1838.5 1229.8L1839.5 1166.1L1839.5 946.2L1840.5 952.8L1840.5 1200.7L1841.5 1173.6L1841.5 953.6L1842.5 952.2L1842.5 1173.5L1843.5 1209.3L1843.5 953.9L1844.5 952.6L1844.5 1184.1L1845.5 1217.4L1845.5 941.1L1846.5 955.9L1846.5 1223.5L1847.5 1210.9L1847.5 942.7L1848.5 944.0L1848.5 1217.7L1849.5 1197.8L1849.5 952.8L1850.5 948.3L1850.5 1176.6L1851.5 1193.0L1851.5 956.0L1852.5 954.9L1852.5 1211.0L1853.5 1215.5L1853.5 948.5L1854.5 954.2L1854.5 1152.9L1855.5 1203.3L1855.5 952.9L1856.5 954.3L1856.5 1197.8L1857.5 1161.3L1857.5 957.2L1858.5 948.5L1858.5 1168.5L1859.5 1173.9L1859.5 951.4L1860.5 944.0L1860.5 1199.8L1861.5 1267.3L1861.5 941.0L1862.5 932.1L1862.5 1190.5L1863.5 1195.0L1863.5 949.8L1864.5 946.7L1864.5 1195.8L1865.5 1147.3L1865.5 949.7L1866.5 948.8L1866.5 1222.7L1867.5 1147.7L1867.5 943.8L1868.5 945.6L1868.5 1270.7L1869.5 1297.6L1869.5 951.0L1870.5 948.1L1870.5 1227.3L1871.5 1172.9L1871.5 946.2L1872.5 951.3L1872.5 1218.9L1873.5 1233.3L1873.5 951.3L1874.5 947.6L1874.5 1167.7L1875.5 1176.3L1875.5 947.4L1876.5 948.1L1876.5 1160.2L1877.5 1255.6L1877.5 960.9L1878.5 956.7L1878.5 1242.4L1879.5 1187.5L1879.5 952.7L1880.5 952.1L1880.5 1172.5L1881.5 1238.6L1881.5 959.7L1882.5 956.4L1882.5 1171.9L1883.5 1180.6L1883.5 956.9L1884.5 950.3L1884.5 1202.3L1885.5 1168.2L1885.5 949.3L1886.5 959.6L1886.5 1203.1L1887.5 1164.1L1887.5 944.2L1888.5 950.3L1888.5 1257.7L1889.5 1201.8L1889.5 962.8L1890.5 953.0L1890.5 1204.5L1891.5 1178.5L1891.5 950.8L1892.5 949.4L1892.5 1177.0L1893.5 1251.5L1893.5 951.2L1894.5 955.2L1894.5 1239.7L1895.5 1250.4L1895.5 955.0L1896.5 949.3L1896.5 1192.3L1897.5 1195.3L1897.5 958.1L1898.5 965.1L1898.5 1323.5L1899.5 1186.2L1899.5 945.4L1900.5 962.3L1900.5 1174.1L1901.5 1213.1L1901.5 956.3L1902.5 954.2L1902.5 1211.3L1903.5 1236.4L1903.5 954.8L1904.5 970.6L1904.5 1228.8L1905.5 1248.7L1905.5 957.5L1906.5 962.2L1906.5 1236.8L1907.5 1204.8L1907.5 967.1L1908.5 955.6L1908.5 1227.7L1909.5 1310.5L1909.5 963.9L1910.5 967.8L1910.5 1247.5L1911.5 1237.8L1911.5 969.3L1912.5 961.8L1912.5 1286.4L1913.5 1202.0L1913.5 966.9L1914.5 967.1L1914.5 1241.7L1915.5 1228.9L1915.5 971.6L1916.5 966.3L1916.5 1286.3L1917.5 1266.9L1917.5 975.5L1918.5 971.8L1918.5 1221.2L1919.5 1281.6L1919.5 961.1L1920.5 969.0L1920.5 1258.6L1921.5 1227.3L1921.5 962.7L1922.5 968.5L1922.5 1226.0L1923.5 1470.0L1923.5 976.0L1924.5 979.7L1924.5 1231.1L1925.5 1236.4L1925.5 976.0L1926.5 970.1L1926.5 1276.7L1927.5 1227.7L1927.5 973.6L1928.5 981.9L1928.5 1236.1L1929.5 1240.8L1929.5 978.3L1930.5 974.2L1930.5 1225.1L1931.5 1294.3L1931.5 979.6L1932.5 961.4L1932.5 1213.2L1933.5 1263.8L1933.5 980.1L1934.5 981.8L1934.5 1258.4L1935.5 1276.8L1935.5 984.6L1936.5 979.4L1936.5 1243.3L1937.5 1224.5L1937.5 985.0L1938.5 988.3L1938.5 1235.7L1939.5 1354.7L1939.5 978.2L1940.5 978.8L1940.5 1250.2L1941.5 1261.1L1941.5 980.9L1942.5 983.3L1942.5 1243.6L1943.5 1369.3L1943.5 983.5L1944.5 985.2L1944.5 1232.2L1945.5 1249.8L1945.5 989.8L1946.5 990.1L1946.5 1258.0L1947.5 1329.0L1947.5 983.9L1948.5 977.9L1948.5 1263.7L1949.5 1246.2L1949.5 983.4L1950.5 987.5L1950.5 1271.9L1951.5 1285.3L1951.5 989.8L1952.5 993.5L1952.5 1281.4L1953.5 1328.4L1953.5 986.6L1954.5 983.3L1954.5 1264.1L1955.5 1265.0L1955.5 985.5L1956.5 992.8L1956.5 1330.8L1957.5 1266.8L1957.5 991.4L1958.5 981.7L1958.5 1268.3L1959.5 1271.0L1959.5 991.7L1960.5 990.7L1960.5 1254.2L1961.5 1253.3L1961.5 984.9L1962.5 993.5L1962.5 1273.0L1963.5 1275.5L1963.5 992.5L1964.5 984.0L1964.5 1296.6L1965.5 1324.8L1965.5 996.5L1966.5 997.2L1966.5 1385.5L1967.5 1320.1L1967.5 998.6L1968.5 993.9L1968.5 1337.3L1969.5 1312.8L1969.5 990.0L1970.5 992.4L1970.5 1254.4L1971.5 1257.1L1971.5 998.5L1972.5 993.3L1972.5 1328.1L1973.5 1294.6L1973.5 991.0L1974.5 1000.9L1974.5 1269.3L1975.5 1313.2L1975.5 1003.1L1976.5 991.9L1976.5 1316.2L1977.5 1271.4L1977.5 1004.0L1978.5 995.8L1978.5 1270.7L1979.5 1330.9L1979.5 992.8L1980.5 997.1L1980.5 1293.5L1981.5 1269.5L1981.5 990.4L1982.5 1006.0L1982.5 1303.5L1983.5 1263.3L1983.5 1002.5L1984.5 998.2L1984.5 1288.6L1985.5 1314.1L1985.5 1002.5L1986.5 1007.3L1986.5 1308.9L1987.5 1272.3L1987.5 1007.5L1988.5 998.5L1988.5 1314.4L1989.5 1282.0L1989.5 994.7L1990.5 1003.4L1990.5 1298.3L1991.5 1270.9L1991.5 1003.2L1992.5 1011.1L1992.5 1288.3L1993.5 1311.6L1993.5 1007.3L1994.5 1000.4L1994.5 1345.0L1995.5 1271.1L1995.5 1008.0L1996.5 1002.4L1996.5 1288.6L1997.5 1263.3L1997.5 1010.6L1998.5 1010.7L1998.5 1265.7L1999.5 1268.0L1999.5 1009.9L2000.5 1010.9L2000.5 1269.6L2001.5 1311.5L2001.5 997.9L2002.5 1001.9L2002.5 1341.0L2003.5 1296.9L2003.5 1010.9L2004.5 1013.3L2004.5 1337.1L2005.5 1307.5L2005.5 1010.5L2006.5 1006.9L2006.5 1270.5L2007.5 1375.5L2007.5 1006.8L2008.5 1015.4L2008.5 1330.0L2009.5 1274.9L2009.5 1015.0L2010.5 1009.8L2010.5 1352.8L2011.5 1328.9L2011.5 1005.2L2012.5 1013.2L2012.5 1314.9L2013.5 1264.2L2013.5 1013.3L2014.5 1010.9L2014.5 1262.0L2015.5 1317.9L2015.5 1016.3L2016.5 1007.2L2016.5 1303.1L2017.5 1305.8L2017.5 1013.1L2018.5 1012.4L2018.5 1291.7L2019.5 1320.4L2019.5 1018.8L2020.5 1011.0L2020.5 1312.0L2021.5 1298.0L2021.5 1020.0L2022.5 1014.9L2022.5 1308.9L2023.5 1305.1L2023.5 1014.6L2024.5 1019.0L2024.5 1344.7L2025.5 1295.7L2025.5 1013.5L2026.5 1023.6L2026.5 1351.8L2027.5 1302.9L2027.5 1016.2L2028.5 1018.4L2028.5 1331.6L2029.5 1284.0L2029.5 1013.9L2030.5 1021.8L2030.5 1286.4L2031.5 1292.8L2031.5 1014.1L2032.5 1014.8L2032.5 1306.2L2033.5 1328.3L2033.5 1019.9L2034.5 1019.2L2034.5 1305.2L2035.5 1280.8L2035.5 1015.8L2036.5 1023.0L2036.5 1341.8L2037.5 1312.6L2037.5 1019.7L2038.5 1024.2L2038.5 1325.7L2039.5 1360.4L2039.5 1023.9L2040.5 1021.6L2040.5 1315.3L2041.5 1357.1L2041.5 1014.2L2042.5 1008.8L2042.5 1307.1L2043.5 1327.6L2043.5 1020.4L2044.5 1011.6L2044.5 1388.7L2045.5 1346.7L2045.5 1015.9L2046.5 1018.4L2046.5 1308.1L2047.5 1341.4L2047.5 1015.3L2048.5 1002.0L2048.5 1337.0L2049.5 1305.0L2049.5 1006.5L2050.5 993.7L2050.5 1262.6L2051.5 1272.2L2051.5 983.0L2052.5 973.3L2052.5 1325.5L2053.5 1299.5L2053.5 960.1L2054.5 954.1L2054.5 1264.0L2055.5 1396.7L2055.5 943.4L2056.5 933.1L2056.5 1266.7L2057.5 1253.8L2057.5 919.1L2058.5 909.2L2058.5 1263.4L2059.5 1212.4L2059.5 905.0L2060.5 890.8L2060.5 1297.0L2061.5 1178.8L2061.5 891.4L2062.5 1146.1L2062.5 872.0" stroke="#ed1c24" stroke-width="5.6"/>
<path d="M395.0 546.8L483.1 546.8L534.6 542.4L571.2 582.3L599.5 559.4L622.7 538.9L642.3 556.4L659.2 557.4L674.2 602.2L687.6 501.6L699.7 562.4L710.8 562.4L720.9 529.5L730.4 549.0L739.1 739.6L747.3 550.0L755.0 585.0L762.3 626.9L769.2 595.7L775.7 576.8L781.9 566.8L787.8 541.2L793.4 590.1L798.8 644.7L804.0 612.0L809.0 590.0L813.8 656.9L818.4 579.0L822.9 596.0L827.2 612.0L831.4 629.0L835.4 642.4L839.3 590.0L843.1 556.8L846.8 523.4L850.4 579.0L853.9 612.0L857.2 646.9L860.5 601.0L863.8 567.9L866.9 590.0L870.0 562.0L873.0 544.5L875.9 551.6L878.7 567.7L881.5 570.8L884.3 626.9L886.9 577.9L889.6 549.4L892.1 556.4L894.6 607.9L897.1 562.2L899.5 585.2L901.9 577.4L904.2 570.8L906.5 559.5L908.8 586.2L911.0 568.0L913.2 604.9L915.3 602.1L917.4 614.6L919.5 575.7L921.5 587.2L923.5 568.1L925.5 609.9L927.4 558.0L929.3 557.6L931.2 591.1L933.0 592.3L934.9 577.5L936.7 580.0L938.5 552.6L940.2 576.6L941.9 543.9L943.6 556.2L945.3 601.2L947.0 602.8L948.6 605.4L950.2 584.6L951.8 550.1L953.4 581.8L955.0 578.6L956.5 568.0L958.0 571.7L959.5 596.6L961.0 569.6L962.5 649.6L964.0 603.6L965.4 591.1L966.8 585.6L968.2 549.7L969.6 659.6L971.0 561.3L972.3 584.0L973.7 609.2L975.0 607.4L976.3 630.1L977.6 605.9L978.9 602.7L980.2 547.4L981.5 584.3L982.7 601.5L984.0 576.7L985.5 603.1L986.5 634.8L987.5 567.9L988.5 581.4L989.5 589.2L991.5 590.4L992.5 564.2L993.5 587.6L994.5 670.8L995.5 538.1L996.5 552.2L997.5 598.9L999.5 589.9L1000.5 577.2L1001.5 587.2L1002.5 587.9L1003.5 596.8L1004.5 592.2L1005.5 722.3L1006.5 598.5L1007.5 554.2L1008.5 596.9L1009.5 550.0L1010.5 535.6L1011.5 631.3L1012.5 649.3L1013.5 602.3L1014.5 617.8L1015.5 664.9L1016.5 541.7L1017.5 579.9L1018.5 585.6L1019.5 603.1L1020.5 558.5L1021.5 572.1L1022.5 622.3L1022.5 661.6L1023.5 595.9L1024.5 614.1L1025.5 555.4L1026.5 613.1L1027.5 606.1L1028.5 583.4L1029.5 616.7L1030.5 614.1L1030.5 551.7L1031.5 689.5L1032.5 623.9L1033.5 568.9L1034.5 620.1L1035.5 560.3L1035.5 583.6L1036.5 674.3L1037.5 585.7L1038.5 571.4L1039.5 657.8L1039.5 590.7L1040.5 547.5L1041.5 654.0L1042.5 585.5L1043.5 606.7L1043.5 664.0L1044.5 555.4L1045.5 556.5L1046.5 645.1L1046.5 609.1L1047.5 615.7L1048.5 601.5L1049.5 565.5L1049.5 641.2L1050.5 601.7L1051.5 598.2L1052.5 614.1L1052.5 534.0L1053.5 643.4L1054.5 574.4L1054.5 632.8L1055.5 602.0L1056.5 562.6L1056.5 532.4L1057.5 586.2L1058.5 592.1L1059.5 571.2L1060.5 572.6L1061.5 564.3L1061.5 663.2L1062.5 586.8L1063.5 665.7L1063.5 571.5L1064.5 649.6L1065.5 575.5L1065.5 614.4L1066.5 562.9L1067.5 622.5L1067.5 584.1L1068.5 565.3L1068.5 579.9L1069.5 655.8L1070.5 642.7L1070.5 596.9L1071.5 601.4L1072.5 610.9L1072.5 632.2L1073.5 679.0L1073.5 593.2L1074.5 617.5L1075.5 564.7L1075.5 641.1L1076.5 601.5L1076.5 561.6L1077.5 601.5L1078.5 516.8L1078.5 669.9L1079.5 626.7L1079.5 608.8L1080.5 567.0L1080.5 631.5L1081.5 575.2L1082.5 568.6L1082.5 567.1L1083.5 587.1L1083.5 587.8L1084.5 568.1L1084.5 560.0L1085.5 658.2L1086.5 550.2L1086.5 621.6L1087.5 631.8L1087.5 601.3L1088.5 549.3L1088.5 621.4L1089.5 657.3L1089.5 552.9L1090.5 573.7L1090.5 607.5L1091.5 657.6L1091.5 589.4L1092.5 575.1L1093.5 574.9L1093.5 729.7L1094.5 667.8L1094.5 591.6L1095.5 561.8L1095.5 604.0L1096.5 594.9L1096.5 542.5L1097.5 570.2L1097.5 732.4L1098.5 579.0L1098.5 574.7L1099.5 575.0L1099.5 596.2L1100.5 563.0L1100.5 557.4L1101.5 536.7L1101.5 578.9L1102.5 648.9L1102.5 583.1L1103.5 560.6L1103.5 606.8L1104.5 622.0L1104.5 579.3L1105.5 584.1L1105.5 590.1L1106.5 672.9L1106.5 589.2L1107.5 564.9L1107.5 603.1L1108.5 599.0L1108.5 579.8L1109.5 590.3L1109.5 633.9L1110.5 592.7L1110.5 567.0L1111.5 562.4L1111.5 658.7L1112.5 602.6L1112.5 595.1L1113.5 565.5L1113.5 573.2L1114.5 622.5L1114.5 612.7L1115.5 547.9L1115.5 633.1L1116.5 592.7L1116.5 570.9L1117.5 560.7L1117.5 586.9L1118.5 593.5L1118.5 537.1L1119.5 601.2L1119.5 655.4L1120.5 626.0L1120.5 545.4L1121.5 546.9L1121.5 578.9L1122.5 650.5L1122.5 536.1L1123.5 587.4L1123.5 695.0L1124.5 691.5L1124.5 665.2L1125.5 584.8L1125.5 632.3L1126.5 634.2L1126.5 562.5L1127.5 596.5L1127.5 633.6L1128.5 731.6L1128.5 550.7L1129.5 569.9L1129.5 629.9L1130.5 606.4L1130.5 577.6L1131.5 539.6L1131.5 641.8L1132.5 599.8L1132.5 590.5L1133.5 612.2L1133.5 624.1L1134.5 652.9L1134.5 572.5L1135.5 595.5L1135.5 687.6L1136.5 687.1L1136.5 561.4L1137.5 590.9L1137.5 636.9L1138.5 654.3L1138.5 576.1L1139.5 583.5L1139.5 698.7L1140.5 672.8L1140.5 533.7L1141.5 600.8L1141.5 647.4L1142.5 721.8L1142.5 585.9L1143.5 572.3L1143.5 621.1L1144.5 691.9L1144.5 542.0L1145.5 601.1L1145.5 636.6L1146.5 615.3L1146.5 547.2L1147.5 560.3L1147.5 626.3L1148.5 696.4L1148.5 570.6L1149.5 568.0L1149.5 675.4L1150.5 626.9L1150.5 542.9L1151.5 611.4L1151.5 648.9L1152.5 664.4L1152.5 593.5L1153.5 570.7L1153.5 641.6L1154.5 612.6L1154.5 533.2L1155.5 595.7L1155.5 638.9L1156.5 645.3L1156.5 593.8L1157.5 570.9L1157.5 671.1L1158.5 708.1L1158.5 583.4L1159.5 588.7L1159.5 718.9L1160.5 623.4L1160.5 575.2L1161.5 579.7L1161.5 630.9L1162.5 611.3L1162.5 573.2L1163.5 580.5L1163.5 621.6L1164.5 607.4L1164.5 601.2L1165.5 571.6L1165.5 593.2L1166.5 596.9L1166.5 569.7L1167.5 561.9L1167.5 649.2L1168.5 726.2L1168.5 614.5L1169.5 580.9L1169.5 635.9L1170.5 646.3L1170.5 635.4L1171.5 545.4L1171.5 573.6L1172.5 625.1L1172.5 589.7L1173.5 582.6L1173.5 726.4L1174.5 647.0L1174.5 578.2L1175.5 587.0L1175.5 672.3L1176.5 610.9L1176.5 582.9L1177.5 554.7L1177.5 593.6L1178.5 602.8L1178.5 573.0L1179.5 565.5L1179.5 663.5L1180.5 590.4L1180.5 564.0L1181.5 571.2L1181.5 735.0L1182.5 648.1L1182.5 612.5L1183.5 584.3L1183.5 717.5L1184.5 639.4L1184.5 574.3L1185.5 531.1L1185.5 702.3L1186.5 690.8L1186.5 565.1L1187.5 574.7L1187.5 686.3L1188.5 634.1L1188.5 573.0L1189.5 577.6L1189.5 609.7L1190.5 619.0L1190.5 567.0L1191.5 577.4L1191.5 698.7L1192.5 660.8L1192.5 575.8L1193.5 594.1L1193.5 692.7L1194.5 636.1L1194.5 578.6L1195.5 556.3L1195.5 660.9L1196.5 652.6L1196.5 579.8L1197.5 587.4L1197.5 642.2L1198.5 658.3L1198.5 573.3L1199.5 559.2L1199.5 626.1L1200.5 651.2L1200.5 577.9L1201.5 596.1L1201.5 642.8L1202.5 622.6L1202.5 597.0L1203.5 561.0L1203.5 669.1L1204.5 690.7L1204.5 613.4L1205.5 547.8L1205.5 684.3L1206.5 622.2L1206.5 575.6L1207.5 577.5L1207.5 618.4L1208.5 740.0L1208.5 571.2L1209.5 554.8L1209.5 629.2L1210.5 692.9L1210.5 629.0L1211.5 588.9L1211.5 725.7L1212.5 628.0L1212.5 580.8L1213.5 598.9L1213.5 623.8L1214.5 647.3L1214.5 567.5L1215.5 610.2L1215.5 703.6L1216.5 699.1L1216.5 600.0L1217.5 572.1L1217.5 687.4L1218.5 635.6L1218.5 565.3L1219.5 568.3L1219.5 661.0L1220.5 700.5L1220.5 569.1L1221.5 581.2L1221.5 690.8L1222.5 680.6L1222.5 606.3L1223.5 552.0L1223.5 663.2L1224.5 775.1L1224.5 584.2L1225.5 562.8L1225.5 641.4L1226.5 724.1L1226.5 570.7L1227.5 572.9L1227.5 716.1L1228.5 756.5L1228.5 578.4L1229.5 567.3L1229.5 713.4L1230.5 638.5L1230.5 600.3L1231.5 568.5L1231.5 659.3L1232.5 624.9L1232.5 555.0L1233.5 593.6L1233.5 721.4L1234.5 647.6L1234.5 569.5L1235.5 564.8L1235.5 662.3L1236.5 660.5L1236.5 555.7L1237.5 571.5L1237.5 638.7L1238.5 649.9L1238.5 603.0L1239.5 613.8L1239.5 724.5L1240.5 693.9L1240.5 610.3L1241.5 586.6L1241.5 661.0L1242.5 636.0L1242.5 555.1L1243.5 593.2L1243.5 653.7L1244.5 730.2L1244.5 577.8L1245.5 597.8L1245.5 685.7L1246.5 650.9L1246.5 588.7L1247.5 581.8L1247.5 639.0L1248.5 651.2L1248.5 599.6L1249.5 558.3L1249.5 762.8L1250.5 797.0L1250.5 556.5L1251.5 579.2L1251.5 715.2L1252.5 651.4L1252.5 580.6L1253.5 572.7L1253.5 696.4L1254.5 672.0L1254.5 558.0L1255.5 585.8L1255.5 675.5L1256.5 838.4L1256.5 597.4L1257.5 565.6L1257.5 639.4L1258.5 652.3L1258.5 587.9L1259.5 586.9L1259.5 635.9L1260.5 693.5L1260.5 544.2L1261.5 577.5L1261.5 667.2L1262.5 624.4L1262.5 549.6L1263.5 601.1L1263.5 770.8L1264.5 654.1L1264.5 555.6L1265.5 571.9L1265.5 666.6L1266.5 656.4L1266.5 599.8L1267.5 568.8L1267.5 696.7L1268.5 694.1L1268.5 570.2L1269.5 598.9L1269.5 718.2L1270.5 719.6L1270.5 578.2L1271.5 564.2L1271.5 629.3L1272.5 729.6L1272.5 592.2L1273.5 572.9L1273.5 691.7L1274.5 650.5L1274.5 578.1L1275.5 559.4L1275.5 713.8L1276.5 728.9L1276.5 582.1L1277.5 579.3L1277.5 660.9L1278.5 754.8L1278.5 596.0L1279.5 610.8L1279.5 775.7L1280.5 741.9L1280.5 569.3L1281.5 602.7L1281.5 688.5L1282.5 704.0L1282.5 606.8L1283.5 593.8L1283.5 671.1L1284.5 800.7L1284.5 612.0L1285.5 592.5L1285.5 706.2L1286.5 780.1L1286.5 594.9L1287.5 586.8L1287.5 740.6L1288.5 715.8L1288.5 603.2L1289.5 598.3L1289.5 731.4L1290.5 668.8L1290.5 588.8L1291.5 591.4L1291.5 743.0L1292.5 750.2L1292.5 588.2L1293.5 589.2L1293.5 755.1L1294.5 671.0L1294.5 589.8L1295.5 605.9L1295.5 684.0L1296.5 701.5L1296.5 591.8L1297.5 604.7L1297.5 708.7L1298.5 668.3L1298.5 587.9L1299.5 596.2L1299.5 762.7L1300.5 741.0L1300.5 605.5L1301.5 587.7L1301.5 754.0L1302.5 693.6L1302.5 571.8L1303.5 607.7L1303.5 719.2L1304.5 677.1L1304.5 612.6L1305.5 600.3L1305.5 711.4L1306.5 710.9L1306.5 582.9L1307.5 593.8L1307.5 728.6L1308.5 681.9L1308.5 608.8L1309.5 616.2L1309.5 703.1L1310.5 710.8L1310.5 616.8L1311.5 616.6L1311.5 713.6L1312.5 743.5L1312.5 599.7L1313.5 593.8L1313.5 732.4L1314.5 669.3L1314.5 593.2L1315.5 601.0L1315.5 748.7L1316.5 725.7L1316.5 598.4L1317.5 597.4L1317.5 675.9L1318.5 744.9L1318.5 623.8L1319.5 595.7L1319.5 697.1L1320.5 684.6L1320.5 600.2L1321.5 602.0L1321.5 694.8L1322.5 704.7L1322.5 599.3L1323.5 585.9L1323.5 768.6L1324.5 732.7L1324.5 585.8L1325.5 607.5L1325.5 717.5L1326.5 737.2L1326.5 616.6L1327.5 611.2L1327.5 752.6L1328.5 790.8L1328.5 609.7L1329.5 599.2L1329.5 740.9L1330.5 731.7L1330.5 578.8L1331.5 614.5L1331.5 800.3L1332.5 842.2L1332.5 641.4L1333.5 616.1L1333.5 732.8L1334.5 724.4L1334.5 613.1L1335.5 595.1L1335.5 676.9L1336.5 714.7L1336.5 600.4L1337.5 609.5L1337.5 694.6L1338.5 795.2L1338.5 615.2L1339.5 606.6L1339.5 681.3L1340.5 747.0L1340.5 616.3L1341.5 605.8L1341.5 690.3L1342.5 794.4L1342.5 602.2L1343.5 609.6L1343.5 704.7L1344.5 750.3L1344.5 615.4L1345.5 577.2L1345.5 725.4L1346.5 696.5L1346.5 605.2L1347.5 613.0L1347.5 713.2L1348.5 819.1L1348.5 606.3L1349.5 615.7L1349.5 731.1L1350.5 772.8L1350.5 611.6L1351.5 618.2L1351.5 829.8L1352.5 726.8L1352.5 608.4L1353.5 601.8L1353.5 739.9L1354.5 701.6L1354.5 608.9L1355.5 624.0L1355.5 716.8L1356.5 773.0L1356.5 603.7L1357.5 598.2L1357.5 753.4L1358.5 738.8L1358.5 608.8L1359.5 627.6L1359.5 738.2L1360.5 743.0L1360.5 627.4L1361.5 613.5L1361.5 747.8L1362.5 760.4L1362.5 638.1L1363.5 613.6L1363.5 744.2L1364.5 718.2L1364.5 610.4L1365.5 640.7L1365.5 739.3L1366.5 735.5L1366.5 627.9L1367.5 628.0L1367.5 716.3L1368.5 823.5L1368.5 628.8L1369.5 640.1L1369.5 733.3L1370.5 758.9L1370.5 628.0L1371.5 623.5L1371.5 702.8L1372.5 730.8L1372.5 631.6L1373.5 618.5L1373.5 735.7L1374.5 825.0L1374.5 636.0L1375.5 627.7L1375.5 748.3L1376.5 707.7L1376.5 611.2L1377.5 619.4L1377.5 831.4L1378.5 735.1L1378.5 635.7L1379.5 627.1L1379.5 791.0L1380.5 766.0L1380.5 614.5L1381.5 629.8L1381.5 720.4L1382.5 728.9L1382.5 628.0L1383.5 621.3L1383.5 744.4L1384.5 761.8L1384.5 627.0L1385.5 609.7L1385.5 785.3L1386.5 724.2L1386.5 654.9L1387.5 626.3L1387.5 763.6L1388.5 748.9L1388.5 626.7L1389.5 625.2L1389.5 809.7L1390.5 718.4L1390.5 639.6L1391.5 637.9L1391.5 803.5L1392.5 751.2L1392.5 634.9L1393.5 650.0L1393.5 751.1L1394.5 761.0L1394.5 651.3L1395.5 647.1L1395.5 807.4L1396.5 777.7L1396.5 610.5L1397.5 654.8L1397.5 849.8L1398.5 742.0L1398.5 639.2L1399.5 629.8L1399.5 766.3L1400.5 749.8L1400.5 633.9L1401.5 661.3L1401.5 744.1L1402.5 770.7L1402.5 646.5L1403.5 654.0L1403.5 847.9L1404.5 776.7L1404.5 644.7L1405.5 656.9L1405.5 786.6L1406.5 843.7L1406.5 662.7L1407.5 661.6L1407.5 797.5L1408.5 757.4L1408.5 652.7L1409.5 653.9L1409.5 743.0L1410.5 808.5L1410.5 645.1L1411.5 652.5L1411.5 807.1L1412.5 801.7L1412.5 653.6L1413.5 649.2L1413.5 796.9L1414.5 813.7L1414.5 665.7L1415.5 657.5L1415.5 786.4L1416.5 780.3L1416.5 669.7L1417.5 668.6L1417.5 804.2L1418.5 822.7L1418.5 658.0L1419.5 661.3L1419.5 858.1L1420.5 796.9L1420.5 664.1L1421.5 670.5L1421.5 836.4L1422.5 816.5L1422.5 666.1L1423.5 669.6L1423.5 793.1L1424.5 789.8L1424.5 662.2L1425.5 676.7L1425.5 796.7L1426.5 793.8L1426.5 653.0L1427.5 673.5L1427.5 796.0L1428.5 790.3L1428.5 665.2L1429.5 680.5L1429.5 827.8L1430.5 761.4L1430.5 670.6L1431.5 651.3L1431.5 885.6L1432.5 830.5L1432.5 672.8L1433.5 661.6L1433.5 826.9L1434.5 758.8L1434.5 672.2L1435.5 670.5L1435.5 783.7L1436.5 779.8L1436.5 674.0L1437.5 667.1L1437.5 815.3L1438.5 786.9L1438.5 674.7L1439.5 685.1L1439.5 827.9L1440.5 879.7L1440.5 661.9L1441.5 668.3L1441.5 794.9L1442.5 779.2L1442.5 691.8L1443.5 674.2L1443.5 850.2L1444.5 868.8L1444.5 680.0L1445.5 679.4L1445.5 800.3L1446.5 819.5L1446.5 708.0L1447.5 682.1L1447.5 804.7L1448.5 805.2L1448.5 682.2L1449.5 694.2L1449.5 828.5L1450.5 833.1L1450.5 675.2L1451.5 700.0L1451.5 838.6L1452.5 814.2L1452.5 704.2L1453.5 693.3L1453.5 793.6L1454.5 810.3L1454.5 699.2L1455.5 717.2L1455.5 888.6L1456.5 839.9L1456.5 708.3L1457.5 707.8L1457.5 955.8L1458.5 935.1L1458.5 699.1L1459.5 709.5L1459.5 828.4L1460.5 830.4L1460.5 687.8L1461.5 694.6L1461.5 873.5L1462.5 903.0L1462.5 706.0L1463.5 717.2L1463.5 871.7L1464.5 873.0L1464.5 715.2L1465.5 723.2L1465.5 861.4L1466.5 856.9L1466.5 713.9L1467.5 732.9L1467.5 871.4L1468.5 940.4L1468.5 717.7L1469.5 723.4L1469.5 863.7L1470.5 873.5L1470.5 730.0L1471.5 738.3L1471.5 865.9L1472.5 873.0L1472.5 720.5L1473.5 732.6L1473.5 985.9L1474.5 909.7L1474.5 732.9L1475.5 732.0L1475.5 925.3L1476.5 855.7L1476.5 730.6L1477.5 748.8L1477.5 1057.1L1478.5 892.2L1478.5 740.1L1479.5 747.7L1479.5 872.6L1480.5 894.1L1480.5 745.3L1481.5 729.0L1481.5 970.0L1482.5 906.2L1482.5 726.2L1483.5 755.2L1483.5 876.8L1484.5 907.7L1484.5 739.5L1485.5 736.3L1485.5 951.5L1486.5 874.2L1486.5 751.5L1487.5 743.1L1487.5 962.7L1488.5 898.3L1488.5 744.7L1489.5 753.2L1489.5 848.7L1490.5 943.4L1490.5 760.5L1491.5 744.5L1491.5 872.7L1492.5 853.2L1492.5 739.7L1493.5 743.3L1493.5 871.6L1494.5 920.1L1494.5 764.8L1495.5 752.3L1495.5 897.1L1496.5 879.1L1496.5 762.5L1497.5 753.2L1497.5 895.1L1498.5 943.7L1498.5 765.3L1499.5 767.2L1499.5 925.8L1500.5 966.5L1500.5 775.0L1501.5 771.4L1501.5 931.8L1502.5 920.2L1502.5 762.4L1503.5 779.1L1503.5 892.6L1504.5 920.7L1504.5 760.5L1505.5 772.2L1505.5 1005.1L1506.5 899.3L1506.5 784.5L1507.5 778.7L1507.5 955.4L1508.5 992.1L1508.5 775.9L1509.5 782.8L1509.5 934.5L1510.5 924.6L1510.5 763.3L1511.5 790.5L1511.5 957.9L1512.5 917.6L1512.5 774.0L1513.5 790.1L1513.5 971.3L1514.5 922.1L1514.5 790.2L1515.5 775.1L1515.5 964.7L1516.5 944.8L1516.5 786.2L1517.5 787.5L1517.5 1014.1L1518.5 923.7L1518.5 790.0L1519.5 786.7L1519.5 989.4L1520.5 972.4L1520.5 795.2L1521.5 798.6L1521.5 958.9L1522.5 973.6L1522.5 782.9L1523.5 792.6L1523.5 1013.0L1524.5 962.9L1524.5 796.4L1525.5 793.8L1525.5 959.2L1526.5 1003.0L1526.5 787.6L1527.5 795.9L1527.5 999.6L1528.5 978.7L1528.5 798.8L1529.5 790.9L1529.5 967.7L1530.5 1026.8L1530.5 810.4L1531.5 808.4L1531.5 1052.4L1532.5 966.5L1532.5 806.6L1533.5 822.6L1533.5 1015.5L1534.5 985.2L1534.5 799.5L1535.5 821.5L1535.5 988.3L1536.5 1000.7L1536.5 826.9L1537.5 831.0L1537.5 1099.2L1538.5 1021.5L1538.5 817.4L1539.5 821.9L1539.5 1074.0L1540.5 1026.7L1540.5 817.6L1541.5 828.5L1541.5 1076.8L1542.5 969.6L1542.5 822.4L1543.5 820.7L1543.5 983.5L1544.5 1033.0L1544.5 831.2L1545.5 826.4L1545.5 1086.4L1546.5 1033.3L1546.5 824.1L1547.5 825.3L1547.5 1038.1L1548.5 1118.1L1548.5 825.1L1549.5 826.3L1549.5 1026.0L1550.5 1157.9L1550.5 831.9L1551.5 831.6L1551.5 1033.7L1552.5 1059.5L1552.5 827.9L1553.5 837.9L1553.5 1007.2L1554.5 1052.7L1554.5 829.5L1555.5 826.1L1555.5 1056.0L1556.5 994.9L1556.5 836.0L1557.5 829.7L1557.5 1037.5L1558.5 1061.8L1558.5 835.0L1559.5 830.7L1559.5 1009.9L1560.5 1102.3L1560.5 858.2L1561.5 848.6L1561.5 1035.2L1562.5 1063.6L1562.5 853.2L1563.5 816.7L1563.5 1019.1L1564.5 1035.4L1564.5 844.3L1565.5 847.2L1565.5 1012.1L1566.5 1071.6L1566.5 852.0L1567.5 839.0L1567.5 1021.6L1568.5 1084.0L1568.5 845.5L1569.5 849.3L1569.5 1007.6L1570.5 971.8L1570.5 847.4L1571.5 847.0L1571.5 1045.4L1572.5 1061.9L1572.5 840.6L1573.5 857.2L1573.5 1071.7L1574.5 1042.4L1574.5 858.5L1575.5 852.8L1575.5 1006.8L1576.5 1028.9L1576.5 849.4L1577.5 859.8L1577.5 1051.4L1578.5 1076.9L1578.5 855.0L1579.5 863.1L1579.5 1029.0L1580.5 1074.6L1580.5 853.0L1581.5 854.0L1581.5 996.2L1582.5 1113.1L1582.5 854.5L1583.5 859.2L1583.5 1087.7L1584.5 1086.4L1584.5 853.8L1585.5 854.5L1585.5 1026.8L1586.5 1090.7L1586.5 860.0L1587.5 860.5L1587.5 1077.5L1588.5 1096.1L1588.5 862.2L1589.5 858.1L1589.5 1094.6L1590.5 1047.8L1590.5 861.9L1591.5 864.6L1591.5 1119.7L1592.5 1030.8L1592.5 865.0L1593.5 860.6L1593.5 1014.9L1594.5 1077.4L1594.5 871.3L1595.5 851.5L1595.5 1009.7L1596.5 1025.2L1596.5 858.7L1597.5 854.0L1597.5 1065.3L1598.5 1002.1L1598.5 860.0L1599.5 855.3L1599.5 1083.2L1600.5 1060.9L1600.5 858.4L1601.5 866.8L1601.5 1071.7L1602.5 1044.3L1602.5 865.1L1603.5 868.5L1603.5 1048.5L1604.5 1031.3L1604.5 858.8L1605.5 867.8L1605.5 1080.1L1606.5 1073.6L1606.5 872.1L1607.5 851.9L1607.5 1054.6L1608.5 1021.7L1608.5 861.8L1609.5 876.8L1609.5 1094.8L1610.5 1154.0L1610.5 871.0L1611.5 868.1L1611.5 1099.7L1612.5 1114.0L1612.5 861.2L1613.5 877.0L1613.5 1111.4L1614.5 1098.1L1614.5 864.2L1615.5 864.5L1615.5 1024.3L1616.5 1073.9L1616.5 872.7L1617.5 880.6L1617.5 1053.2L1618.5 1025.9L1618.5 880.8L1619.5 878.2L1619.5 1090.1L1620.5 1044.3L1620.5 884.6L1621.5 864.8L1621.5 1108.3L1622.5 1093.9L1622.5 880.4L1623.5 873.0L1623.5 1061.5L1624.5 1096.3L1624.5 871.8L1625.5 865.4L1625.5 1101.2L1626.5 1122.7L1626.5 870.0L1627.5 874.0L1627.5 1086.9L1628.5 1086.9L1628.5 862.2L1629.5 869.4L1629.5 1037.6L1630.5 1043.9L1630.5 871.8L1631.5 883.7L1631.5 1071.0L1632.5 1072.8L1632.5 880.6L1633.5 881.5L1633.5 1064.7L1634.5 1048.5L1634.5 875.1L1635.5 883.4L1635.5 1032.5L1636.5 1065.2L1636.5 874.7L1637.5 872.5L1637.5 1069.7L1638.5 1114.9L1638.5 878.9L1639.5 876.2L1639.5 1069.2L1640.5 1023.5L1640.5 874.0L1641.5 888.0L1641.5 1063.5L1642.5 1038.2L1642.5 875.6L1643.5 883.3L1643.5 1051.8L1644.5 1111.0L1644.5 876.7L1645.5 877.6L1645.5 1026.1L1646.5 1083.9L1646.5 878.2L1647.5 871.2L1647.5 1063.4L1648.5 1142.2L1648.5 869.8L1649.5 885.4L1649.5 1080.6L1650.5 1133.5L1650.5 878.8L1651.5 885.1L1651.5 1109.6L1652.5 1061.8L1652.5 884.9L1653.5 880.5L1653.5 1131.2L1654.5 1071.5L1654.5 885.1L1655.5 879.0L1655.5 1038.4L1656.5 1127.5L1656.5 876.1L1657.5 878.4L1657.5 1077.7L1658.5 1118.0L1658.5 872.4L1659.5 881.7L1659.5 1094.2L1660.5 1111.6L1660.5 882.1L1661.5 881.7L1661.5 1073.1L1662.5 1022.9L1662.5 870.5L1663.5 879.3L1663.5 1067.1L1664.5 1031.1L1664.5 885.2L1665.5 874.1L1665.5 1053.6L1666.5 1078.2L1666.5 882.6L1667.5 875.9L1667.5 1066.4L1668.5 1078.9L1668.5 880.3L1669.5 883.6L1669.5 1109.1L1670.5 1099.9L1670.5 890.1L1671.5 870.4L1671.5 1103.0L1672.5 1143.4L1672.5 885.0L1673.5 874.3L1673.5 1106.7L1674.5 1038.6L1674.5 881.7L1675.5 883.4L1675.5 1075.5L1676.5 1092.4L1676.5 876.5L1677.5 878.0L1677.5 1078.8L1678.5 1093.8L1678.5 885.2L1679.5 881.9L1679.5 1121.0L1680.5 1118.3L1680.5 880.8L1681.5 877.0L1681.5 1083.6L1682.5 1072.7L1682.5 882.7L1683.5 872.7L1683.5 1105.7L1684.5 1087.3L1684.5 880.7L1685.5 882.1L1685.5 1063.6L1686.5 1064.9L1686.5 891.7L1687.5 883.2L1687.5 1103.7L1688.5 1082.1L1688.5 885.1L1689.5 879.2L1689.5 1047.8L1690.5 1059.9L1690.5 877.1L1691.5 884.6L1691.5 1103.5L1692.5 1084.6L1692.5 876.0L1693.5 888.7L1693.5 1089.1L1694.5 1177.1L1694.5 878.4L1695.5 881.2L1695.5 1085.8L1696.5 1138.9L1696.5 878.6L1697.5 879.9L1697.5 1166.5L1698.5 1101.9L1698.5 871.2L1699.5 879.8L1699.5 1102.8L1700.5 1076.2L1700.5 890.9L1701.5 885.1L1701.5 1102.1L1702.5 1125.5L1702.5 885.2L1703.5 883.8L1703.5 1165.9L1704.5 1124.7L1704.5 882.4L1705.5 892.1L1705.5 1127.0L1706.5 1095.5L1706.5 889.6L1707.5 886.1L1707.5 1088.4L1708.5 1129.5L1708.5 887.9L1709.5 887.5L1709.5 1140.0L1710.5 1128.7L1710.5 894.9L1711.5 893.7L1711.5 1136.0L1712.5 1109.4L1712.5 880.9L1713.5 895.2L1713.5 1121.6L1714.5 1084.8L1714.5 882.8L1715.5 885.6L1715.5 1097.9L1716.5 1076.9L1716.5 897.9L1717.5 899.5L1717.5 1108.5L1718.5 1138.2L1718.5 888.7L1719.5 874.1L1719.5 1095.9L1720.5 1163.0L1720.5 895.8L1721.5 897.4L1721.5 1257.5L1722.5 1095.1L1722.5 891.1L1723.5 899.1L1723.5 1135.9L1724.5 1118.7L1724.5 890.4L1725.5 888.3L1725.5 1104.3L1726.5 1071.6L1726.5 890.2L1727.5 886.4L1727.5 1201.3L1728.5 1092.3L1728.5 897.2L1729.5 889.3L1729.5 1131.3L1730.5 1208.8L1730.5 894.2L1731.5 906.8L1731.5 1093.2L1732.5 1086.5L1732.5 895.4L1733.5 895.9L1733.5 1142.7L1734.5 1164.8L1734.5 884.7L1735.5 902.8L1735.5 1109.6L1736.5 1202.4L1736.5 905.9L1737.5 903.9L1737.5 1108.3L1738.5 1099.8L1738.5 900.4L1739.5 902.4L1739.5 1155.5L1740.5 1176.9L1740.5 903.4L1741.5 893.0L1741.5 1109.6L1742.5 1147.8L1742.5 906.5L1743.5 906.4L1743.5 1091.8L1744.5 1089.9L1744.5 910.7L1745.5 906.9L1745.5 1116.7L1746.5 1187.2L1746.5 905.2L1747.5 893.1L1747.5 1129.9L1748.5 1149.7L1748.5 902.6L1749.5 900.8L1749.5 1095.4L1750.5 1148.8L1750.5 908.4L1751.5 906.1L1751.5 1220.3L1752.5 1116.6L1752.5 915.6L1753.5 905.8L1753.5 1125.0L1754.5 1109.3L1754.5 911.7L1755.5 915.1L1755.5 1119.0L1756.5 1249.1L1756.5 912.7L1757.5 904.9L1757.5 1127.1L1758.5 1112.7L1758.5 905.2L1759.5 911.2L1759.5 1183.2L1760.5 1115.1L1760.5 903.2L1761.5 919.1L1761.5 1130.9L1762.5 1229.0L1762.5 917.3L1763.5 914.0L1763.5 1078.5L1764.5 1102.3L1764.5 923.9L1765.5 907.1L1765.5 1145.4L1766.5 1160.8L1766.5 908.9L1767.5 904.5L1767.5 1200.6L1768.5 1281.4L1768.5 901.6L1769.5 925.3L1769.5 1156.1L1770.5 1151.0L1770.5 921.0L1771.5 908.3L1771.5 1169.7L1772.5 1138.9L1772.5 930.4L1773.5 921.3L1773.5 1166.6L1774.5 1139.1L1774.5 917.4L1775.5 916.4L1775.5 1196.2L1776.5 1138.5L1776.5 917.9L1777.5 926.3L1777.5 1122.7L1778.5 1144.6L1778.5 929.3L1779.5 924.8L1779.5 1146.4L1780.5 1157.8L1780.5 928.4L1781.5 929.3L1781.5 1157.1L1782.5 1172.9L1782.5 920.5L1783.5 930.7L1783.5 1168.5L1784.5 1137.3L1784.5 920.7L1785.5 928.8L1785.5 1137.7L1786.5 1190.2L1786.5 929.2L1787.5 922.3L1787.5 1183.0L1788.5 1105.4L1788.5 929.1L1789.5 928.9L1789.5 1235.7L1790.5 1213.4L1790.5 928.6L1791.5 934.1L1791.5 1129.6L1792.5 1116.5L1792.5 933.8L1793.5 930.9L1793.5 1182.2L1794.5 1168.3L1794.5 929.8L1795.5 926.7L1795.5 1191.7L1796.5 1181.2L1796.5 925.0L1797.5 934.0L1797.5 1190.7L1798.5 1141.3L1798.5 933.7L1799.5 936.6L1799.5 1171.6L1800.5 1203.3L1800.5 926.3L1801.5 932.8L1801.5 1137.5L1802.5 1196.4L1802.5 931.9L1803.5 923.9L1803.5 1218.8L1804.5 1194.7L1804.5 940.1L1805.5 926.3L1805.5 1166.9L1806.5 1174.3L1806.5 934.4L1807.5 928.7L1807.5 1156.5L1808.5 1191.0L1808.5 933.3L1809.5 934.1L1809.5 1236.4L1810.5 1313.9L1810.5 937.3L1811.5 938.7L1811.5 1207.8L1812.5 1243.0L1812.5 938.3L1813.5 932.0L1813.5 1118.2L1814.5 1159.6L1814.5 938.1L1815.5 930.7L1815.5 1210.6L1816.5 1180.9L1816.5 941.6L1817.5 941.9L1817.5 1205.1L1818.5 1213.7L1818.5 939.4L1819.5 933.6L1819.5 1162.4L1820.5 1186.2L1820.5 940.1L1821.5 936.6L1821.5 1172.5L1822.5 1158.3L1822.5 933.5L1823.5 935.0L1823.5 1149.7L1824.5 1149.8L1824.5 927.4L1825.5 935.2L1825.5 1254.3L1826.5 1154.8L1826.5 934.8L1827.5 941.6L1827.5 1129.7L1828.5 1230.6L1828.5 942.5L1829.5 935.0L1829.5 1243.3L1830.5 1248.9L1830.5 932.5L1831.5 939.3L1831.5 1227.3L1832.5 1218.3L1832.5 936.4L1833.5 946.1L1833.5 1197.5L1834.5 1146.5L1834.5 940.2L1835.5 939.5L1835.5 1193.5L1836.5 1197.2L1836.5 939.4L1837.5 943.6L1837.5 1176.2L1838.5 1230.3L1838.5 937.5L1839.5 941.0L1839.5 1187.8L1840.5 1167.5L1840.5 942.5L1841.5 941.4L1841.5 1225.5L1842.5 1202.8L1842.5 930.9L1843.5 940.4L1843.5 1193.0L1844.5 1207.9L1844.5 938.7L1845.5 936.1L1845.5 1193.3L1846.5 1205.0L1846.5 939.9L1847.5 935.3L1847.5 1182.0L1848.5 1191.2L1848.5 942.0L1849.5 941.9L1849.5 1166.9L1850.5 1245.0L1850.5 942.5L1851.5 947.6L1851.5 1205.3L1852.5 1165.9L1852.5 935.9L1853.5 937.0L1853.5 1183.8L1854.5 1175.5L1854.5 947.1L1855.5 939.5L1855.5 1213.3L1856.5 1162.9L1856.5 944.7L1857.5 942.6L1857.5 1231.2L1858.0 957.9" stroke="#6abd45" stroke-width="5.7"/>
<path d="M392.2 525.9L480.3 556.0L531.8 568.3L568.3 553.8L596.7 547.4L619.9 521.5L639.4 580.3L656.4 552.4L671.4 549.0L684.8 604.2L696.9 540.5L707.9 616.1L718.1 550.4L727.5 552.4L736.3 630.6L744.5 579.0L752.2 552.3L759.5 539.0L766.3 547.9L772.9 584.6L779.1 620.2L785.0 579.0L790.6 547.9L796.0 584.6L801.2 634.7L806.2 545.6L811.0 635.8L815.6 590.1L820.1 620.2L824.4 552.3L828.5 585.7L832.6 570.1L836.5 550.1L840.3 663.6L844.0 590.1L847.5 553.4L851.0 577.9L854.4 572.3L857.7 565.7L860.9 545.6L864.1 531.2L867.1 618.0L870.1 566.8L873.0 644.7L875.9 613.0L878.7 562.9L881.4 644.8L884.1 672.8L886.7 569.8L889.3 630.3L891.8 547.3L894.3 569.1L896.7 608.0L899.1 619.6L901.4 606.0L903.7 608.1L905.9 580.4L908.2 541.2L910.3 538.2L912.5 568.5L914.6 604.0L916.6 581.9L918.7 564.4L920.7 557.7L922.6 558.8L924.6 584.8L926.5 627.8L928.4 574.0L930.2 711.4L932.0 581.8L933.9 681.9L935.6 551.7L937.4 635.6L939.1 600.5L940.8 617.7L942.5 580.6L944.2 577.9L945.8 580.2L947.4 583.9L949.0 550.6L950.6 602.9L952.2 565.0L953.7 572.2L955.2 563.1L956.7 587.1L958.2 623.0L959.7 572.4L961.1 538.8L962.6 652.6L964.0 647.7L965.4 548.1L966.8 590.4L968.2 655.1L969.5 598.0L970.9 546.7L972.2 573.5L973.5 596.8L974.8 695.0L976.1 584.7L977.4 563.0L978.6 598.7L979.9 580.4L981.1 564.0L982.4 642.2L983.6 615.8L984.8 656.1L985.5 564.9L987.5 556.6L988.5 582.7L989.5 566.0L990.5 587.6L991.5 532.5L992.5 610.1L994.5 628.4L995.5 558.8L996.5 571.5L997.5 564.0L998.5 613.9L999.5 578.8L1000.5 568.8L1001.5 527.1L1002.5 606.7L1003.5 605.3L1004.5 704.0L1005.5 585.0L1006.5 533.9L1007.5 568.5L1008.5 613.3L1009.5 607.8L1010.5 582.6L1011.5 578.2L1012.5 568.7L1013.5 663.6L1014.5 569.3L1015.5 559.6L1016.5 567.0L1017.5 570.5L1018.5 556.3L1019.5 566.2L1020.5 582.1L1021.5 570.5L1021.5 586.6L1022.5 582.3L1023.5 557.1L1024.5 667.2L1025.5 564.1L1026.5 596.0L1027.5 522.4L1028.5 715.4L1028.5 631.5L1029.5 571.1L1030.5 633.1L1031.5 600.3L1032.5 590.2L1033.5 576.8L1033.5 642.0L1034.5 647.4L1035.5 546.2L1036.5 610.0L1037.5 564.0L1037.5 560.1L1038.5 617.0L1039.5 549.4L1040.5 595.5L1041.5 574.8L1041.5 609.4L1042.5 597.3L1043.5 620.1L1044.5 572.4L1044.5 566.3L1045.5 585.7L1046.5 566.5L1047.5 540.7L1047.5 626.7L1048.5 557.7L1049.5 672.0L1049.5 583.2L1050.5 576.2L1051.5 664.5L1052.5 556.5L1052.5 585.1L1053.5 593.3L1054.5 623.6L1054.5 520.0L1055.5 568.3L1056.5 578.7L1056.5 607.5L1057.5 532.2L1058.5 617.3L1058.5 549.3L1059.5 605.6L1060.5 583.9L1060.5 658.4L1061.5 628.0L1062.5 616.2L1062.5 613.2L1063.5 559.9L1064.5 529.0L1064.5 604.2L1065.5 625.8L1066.5 565.7L1066.5 555.0L1067.5 581.0L1067.5 586.8L1068.5 635.4L1069.5 612.5L1069.5 610.2L1070.5 574.2L1071.5 571.0L1071.5 758.8L1072.5 607.6L1072.5 556.0L1073.5 556.0L1074.5 534.9L1074.5 573.3L1075.5 583.1L1075.5 567.2L1076.5 556.9L1076.5 607.5L1077.5 584.0L1078.5 733.3L1078.5 606.2L1079.5 614.1L1079.5 641.1L1080.5 623.9L1080.5 563.4L1081.5 577.8L1082.5 620.9L1082.5 648.3L1083.5 660.2L1083.5 536.3L1084.5 550.7L1084.5 618.3L1085.5 648.2L1085.5 540.5L1086.5 624.7L1087.5 642.9L1087.5 678.8L1088.5 625.8L1088.5 602.2L1089.5 588.0L1089.5 700.5L1090.5 598.3L1090.5 589.3L1091.5 584.8L1091.5 609.3L1092.5 667.5L1092.5 625.4L1093.5 585.0L1093.5 650.7L1094.5 671.3L1094.5 604.5L1095.5 597.7L1095.5 627.9L1096.5 602.2L1096.5 583.7L1097.5 586.2L1097.5 589.2L1098.5 598.7L1098.5 589.5L1099.5 543.9L1099.5 611.5L1100.5 731.3L1100.5 579.7L1101.5 583.5L1101.5 624.4L1102.5 594.5L1102.5 582.4L1103.5 568.1L1103.5 579.1L1104.5 621.7L1104.5 556.4L1105.5 581.7L1105.5 607.2L1106.5 599.7L1106.5 579.4L1107.5 555.8L1107.5 603.5L1108.5 591.7L1108.5 559.7L1109.5 587.6L1109.5 618.2L1110.5 587.9L1110.5 548.1L1111.5 560.7L1111.5 646.6L1112.5 656.6L1112.5 603.4L1113.5 552.8L1113.5 593.3L1114.5 615.1L1114.5 570.4L1115.5 565.6L1115.5 576.4L1116.5 614.6L1116.5 582.3L1117.5 590.1L1117.5 621.5L1118.5 677.9L1118.5 663.4L1119.5 558.6L1119.5 611.6L1120.5 636.8L1120.5 612.3L1121.5 572.4L1121.5 638.1L1122.5 654.6L1122.5 616.5L1123.5 575.7L1123.5 602.6L1124.5 620.4L1124.5 594.4L1125.5 589.4L1125.5 654.1L1126.5 575.2L1126.5 548.2L1127.5 545.6L1127.5 638.7L1128.5 643.5L1128.5 561.4L1129.5 597.2L1129.5 625.9L1130.5 640.1L1130.5 579.8L1131.5 569.8L1131.5 651.5L1132.5 591.1L1132.5 558.7L1133.5 584.1L1133.5 591.4L1134.5 631.3L1134.5 570.9L1135.5 584.9L1135.5 635.9L1136.5 643.4L1136.5 573.9L1137.5 599.4L1137.5 607.8L1138.5 657.7L1138.5 605.6L1139.5 531.3L1139.5 660.8L1140.5 659.0L1140.5 541.9L1141.5 566.6L1141.5 645.9L1142.5 661.9L1142.5 623.3L1143.5 610.2L1143.5 688.5L1144.5 591.8L1144.5 562.5L1145.5 596.9L1145.5 608.5L1146.5 627.7L1146.5 572.2L1147.5 569.7L1147.5 603.3L1148.5 632.4L1148.5 549.8L1149.5 543.7L1149.5 683.6L1150.5 664.1L1150.5 582.1L1151.5 592.6L1151.5 636.5L1152.5 602.7L1152.5 550.5L1153.5 575.8L1153.5 747.2L1154.5 640.1L1154.5 620.1L1155.5 556.6L1155.5 681.2L1156.5 669.1L1156.5 617.3L1157.5 585.0L1157.5 589.1L1158.5 613.8L1158.5 568.1L1159.5 554.6L1159.5 581.3L1160.5 608.3L1160.5 552.6L1161.5 570.8L1161.5 615.9L1162.5 672.6L1162.5 587.7L1163.5 562.5L1163.5 655.9L1164.5 671.8L1164.5 582.0L1165.5 600.7L1165.5 695.2L1166.5 698.9L1166.5 583.8L1167.5 535.2L1167.5 632.1L1168.5 721.7L1168.5 599.7L1169.5 555.2L1169.5 628.7L1170.5 658.4L1170.5 573.8L1171.5 590.6L1171.5 697.5L1172.5 657.0L1172.5 573.5L1173.5 575.2L1173.5 622.8L1174.5 627.6L1174.5 544.4L1175.5 596.4L1175.5 647.1L1176.5 644.6L1176.5 566.4L1177.5 552.8L1177.5 592.1L1178.5 728.6L1178.5 607.7L1179.5 566.3L1179.5 600.7L1180.5 621.5L1180.5 578.7L1181.5 576.7L1181.5 636.6L1182.5 668.2L1182.5 564.0L1183.5 571.4L1183.5 670.9L1184.5 601.3L1184.5 568.4L1185.5 569.0L1185.5 637.1L1186.5 604.4L1186.5 551.8L1187.5 574.7L1187.5 604.4L1188.5 813.2L1188.5 576.6L1189.5 557.6L1189.5 652.3L1190.5 682.2L1190.5 585.1L1191.5 556.1L1191.5 682.6L1192.5 634.8L1192.5 534.9L1193.5 594.8L1193.5 672.9L1194.5 800.0L1194.5 584.0L1195.5 554.7L1195.5 701.3L1196.5 635.1L1196.5 584.1L1197.5 559.0L1197.5 597.8L1198.5 633.0L1198.5 593.9L1199.5 585.3L1199.5 615.2L1200.5 694.9L1200.5 585.6L1201.5 552.1L1201.5 597.4L1202.5 657.5L1202.5 557.0L1203.5 552.4L1203.5 689.6L1204.5 630.8L1204.5 587.7L1205.5 573.0L1205.5 614.5L1206.5 637.7L1206.5 575.6L1207.5 547.1L1207.5 654.3L1208.5 642.2L1208.5 579.5L1209.5 576.5L1209.5 621.1L1210.5 709.0L1210.5 577.1L1211.5 560.5L1211.5 657.3L1212.5 633.9L1212.5 587.7L1213.5 553.8L1213.5 688.0L1214.5 646.0L1214.5 590.3L1215.5 576.8L1215.5 616.5L1216.5 687.5L1216.5 570.5L1217.5 580.2L1217.5 627.8L1218.5 716.0L1218.5 607.0L1219.5 603.2L1219.5 663.5L1220.5 706.4L1220.5 588.3L1221.5 560.0L1221.5 619.8L1222.5 651.5L1222.5 575.5L1223.5 582.3L1223.5 709.7L1224.5 637.5L1224.5 563.5L1225.5 596.1L1225.5 666.6L1226.5 657.0L1226.5 588.9L1227.5 579.4L1227.5 627.4L1228.5 654.9L1228.5 562.7L1229.5 588.0L1229.5 678.4L1230.5 637.1L1230.5 562.6L1231.5 577.8L1231.5 673.2L1232.5 640.1L1232.5 577.3L1233.5 570.7L1233.5 664.9L1234.5 691.0L1234.5 555.7L1235.5 577.2L1235.5 758.4L1236.5 710.7L1236.5 570.1L1237.5 573.5L1237.5 676.3L1238.5 677.2L1238.5 572.1L1239.5 583.0L1239.5 707.9L1240.5 832.8L1240.5 566.2L1241.5 574.8L1241.5 701.6L1242.5 727.1L1242.5 597.4L1243.5 595.4L1243.5 669.3L1244.5 729.5L1244.5 579.1L1245.5 573.5L1245.5 669.0L1246.5 696.9L1246.5 590.6L1247.5 558.3L1247.5 737.3L1248.5 687.1L1248.5 575.5L1249.5 597.3L1249.5 713.5L1250.5 675.5L1250.5 578.6L1251.5 576.5L1251.5 680.8L1252.5 691.3L1252.5 558.7L1253.5 596.5L1253.5 657.9L1254.5 681.4L1254.5 574.4L1255.5 576.7L1255.5 677.0L1256.5 721.0L1256.5 571.9L1257.5 572.7L1257.5 685.4L1258.5 741.9L1258.5 583.3L1259.5 579.2L1259.5 650.2L1260.5 729.1L1260.5 596.7L1261.5 577.0L1261.5 744.4L1262.5 652.5L1262.5 586.6L1263.5 579.4L1263.5 746.7L1264.5 737.2L1264.5 583.8L1265.5 559.0L1265.5 662.4L1266.5 709.1L1266.5 585.2L1267.5 581.7L1267.5 697.4L1268.5 698.8L1268.5 577.8L1269.5 602.8L1269.5 699.6L1270.5 662.0L1270.5 583.0L1271.5 576.2L1271.5 655.0L1272.5 673.4L1272.5 579.4L1273.5 602.4L1273.5 649.5L1274.5 694.7L1274.5 590.7L1275.5 563.2L1275.5 701.0L1276.5 670.6L1276.5 596.2L1277.5 603.2L1277.5 656.3L1278.5 667.7L1278.5 582.4L1279.5 605.5L1279.5 670.1L1280.5 687.4L1280.5 578.0L1281.5 584.5L1281.5 680.1L1282.5 818.8L1282.5 599.7L1283.5 615.7L1283.5 742.6L1284.5 739.8L1284.5 592.2L1285.5 585.5L1285.5 682.0L1286.5 717.0L1286.5 606.6L1287.5 608.0L1287.5 752.6L1288.5 658.4L1288.5 561.1L1289.5 602.4L1289.5 666.0L1290.5 639.2L1290.5 596.2L1291.5 583.3L1291.5 797.0L1292.5 694.5L1292.5 602.3L1293.5 611.6L1293.5 727.6L1294.5 726.2L1294.5 566.1L1295.5 599.2L1295.5 699.3L1296.5 732.4L1296.5 581.7L1297.5 594.8L1297.5 720.3L1298.5 666.0L1298.5 578.5L1299.5 588.7L1299.5 763.5L1300.5 850.9L1300.5 610.1L1301.5 602.1L1301.5 686.9L1302.5 637.1L1302.5 596.1L1303.5 602.9L1303.5 805.7L1304.5 799.8L1304.5 603.4L1305.5 599.8L1305.5 672.4L1306.5 791.1L1306.5 604.0L1307.5 586.2L1307.5 689.2L1308.5 649.1L1308.5 581.2L1309.5 620.5L1309.5 710.1L1310.5 739.6L1310.5 610.1L1311.5 594.9L1311.5 685.1L1312.5 717.0L1312.5 609.6L1313.5 610.8L1313.5 789.2L1314.5 688.7L1314.5 599.4L1315.5 601.0L1315.5 739.9L1316.5 709.8L1316.5 605.2L1317.5 601.1L1317.5 685.8L1318.5 811.4L1318.5 593.9L1319.5 616.5L1319.5 731.4L1320.5 684.6L1320.5 585.6L1321.5 593.9L1321.5 699.9L1322.5 700.9L1322.5 594.8L1323.5 600.5L1323.5 713.0L1324.5 703.0L1324.5 596.8L1325.5 608.9L1325.5 722.6L1326.5 723.6L1326.5 599.2L1327.5 593.5L1327.5 683.5L1328.5 715.5L1328.5 592.6L1329.5 592.2L1329.5 673.5L1330.5 667.0L1330.5 617.0L1331.5 595.7L1331.5 812.3L1332.5 791.7L1332.5 590.1L1333.5 608.9L1333.5 830.6L1334.5 708.8L1334.5 606.5L1335.5 600.6L1335.5 743.8L1336.5 721.9L1336.5 606.8L1337.5 611.0L1337.5 790.6L1338.5 715.4L1338.5 604.6L1339.5 603.2L1339.5 726.2L1340.5 736.5L1340.5 615.3L1341.5 605.8L1341.5 726.4L1342.5 738.1L1342.5 616.9L1343.5 610.2L1343.5 739.1L1344.5 685.4L1344.5 603.3L1345.5 608.5L1345.5 740.2L1346.5 763.0L1346.5 615.1L1347.5 586.0L1347.5 696.2L1348.5 693.1L1348.5 596.7L1349.5 617.3L1349.5 731.1L1350.5 748.2L1350.5 603.9L1351.5 621.5L1351.5 791.0L1352.5 689.1L1352.5 620.9L1353.5 614.5L1353.5 722.0L1354.5 781.7L1354.5 588.8L1355.5 615.9L1355.5 775.8L1356.5 698.2L1356.5 607.2L1357.5 602.0L1357.5 704.8L1358.5 738.3L1358.5 606.4L1359.5 600.9L1359.5 789.5L1360.5 726.0L1360.5 630.5L1361.5 605.3L1361.5 759.6L1362.5 748.4L1362.5 618.2L1363.5 643.2L1363.5 723.5L1364.5 731.6L1364.5 630.1L1365.5 611.7L1365.5 745.4L1366.5 730.8L1366.5 620.5L1367.5 631.3L1367.5 752.0L1368.5 816.4L1368.5 640.1L1369.5 622.0L1369.5 748.1L1370.5 784.9L1370.5 640.5L1371.5 615.0L1371.5 755.7L1372.5 741.2L1372.5 629.1L1373.5 623.4L1373.5 739.5L1374.5 836.4L1374.5 627.8L1375.5 602.9L1375.5 796.5L1376.5 761.3L1376.5 621.8L1377.5 612.1L1377.5 744.0L1378.5 902.1L1378.5 635.0L1379.5 613.8L1379.5 794.3L1380.5 783.2L1380.5 622.8L1381.5 628.1L1381.5 903.8L1382.5 756.5L1382.5 620.7L1383.5 636.0L1383.5 729.8L1384.5 850.8L1384.5 652.6L1385.5 610.5L1385.5 715.9L1386.5 765.6L1386.5 619.2L1387.5 622.3L1387.5 798.0L1388.5 769.1L1388.5 621.9L1389.5 650.1L1389.5 761.2L1390.5 786.2L1390.5 615.6L1391.5 639.6L1391.5 865.0L1392.5 771.4L1392.5 630.9L1393.5 638.8L1393.5 769.1L1394.5 759.4L1394.5 614.7L1395.5 636.8L1395.5 798.0L1396.5 780.2L1396.5 639.9L1397.5 629.5L1397.5 782.6L1398.5 751.0L1398.5 629.7L1399.5 613.6L1399.5 770.1L1400.5 767.8L1400.5 624.1L1401.5 631.2L1401.5 753.8L1402.5 787.1L1402.5 638.3L1403.5 653.1L1403.5 777.2L1404.5 805.0L1404.5 633.4L1405.5 635.2L1405.5 777.0L1406.5 786.1L1406.5 650.0L1407.5 635.4L1407.5 746.1L1408.5 745.1L1408.5 619.0L1409.5 636.3L1409.5 737.9L1410.5 767.7L1410.5 639.7L1411.5 635.7L1411.5 770.3L1412.5 744.8L1412.5 645.9L1413.5 649.2L1413.5 799.5L1414.5 751.5L1414.5 637.2L1415.5 626.4L1415.5 754.0L1416.5 737.6L1416.5 646.6L1417.5 644.8L1417.5 733.3L1418.5 774.4L1418.5 636.9L1419.5 664.2L1419.5 799.2L1420.5 791.7L1420.5 637.9L1421.5 645.8L1421.5 788.9L1422.5 769.9L1422.5 657.2L1423.5 639.9L1423.5 790.6L1424.5 765.0L1424.5 641.0L1425.5 644.9L1425.5 786.0L1426.5 766.4L1426.5 648.8L1427.5 655.2L1427.5 799.7L1428.5 759.9L1428.5 640.6L1429.5 657.1L1429.5 862.4L1430.5 892.4L1430.5 643.6L1431.5 640.3L1431.5 788.8L1432.5 799.8L1432.5 647.8L1433.5 645.0L1433.5 767.1L1434.5 797.0L1434.5 646.3L1435.5 662.6L1435.5 787.0L1436.5 845.2L1436.5 648.8L1437.5 644.3L1437.5 784.8L1438.5 795.8L1438.5 667.0L1439.5 645.0L1439.5 811.8L1440.5 801.9L1440.5 658.4L1441.5 641.4L1441.5 824.2L1442.5 794.2L1442.5 663.8L1443.5 664.6L1443.5 834.5L1444.5 796.9L1444.5 668.1L1445.5 681.4L1445.5 814.7L1446.5 753.7L1446.5 674.8L1447.5 676.1L1447.5 779.7L1448.5 838.4L1448.5 680.9L1449.5 671.9L1449.5 791.8L1450.5 844.1L1450.5 666.3L1451.5 673.6L1451.5 778.7L1452.5 799.1L1452.5 660.2L1453.5 686.1L1453.5 926.8L1454.5 809.8L1454.5 679.2L1455.5 679.7L1455.5 838.1L1456.5 893.9L1456.5 680.3L1457.5 687.9L1457.5 793.1L1458.5 854.8L1458.5 692.1L1459.5 683.9L1459.5 824.0L1460.5 911.0L1460.5 670.1L1461.5 680.7L1461.5 866.4L1462.5 826.1L1462.5 705.2L1463.5 670.0L1463.5 861.4L1464.5 870.1L1464.5 679.5L1465.5 695.2L1465.5 883.1L1466.5 842.1L1466.5 685.7L1467.5 688.0L1467.5 889.6L1468.5 853.0L1468.5 697.6L1469.5 698.0L1469.5 865.6L1470.5 847.0L1470.5 711.1L1471.5 692.0L1471.5 948.0L1472.5 883.5L1472.5 717.4L1473.5 696.0L1473.5 880.3L1474.5 968.8L1474.5 708.4L1475.5 712.2L1475.5 889.7L1476.5 907.5L1476.5 726.2L1477.5 715.3L1477.5 864.6L1478.5 945.4L1478.5 714.3L1479.5 721.2L1479.5 872.2L1480.5 925.2L1480.5 696.9L1481.5 707.8L1481.5 840.7L1482.5 867.9L1482.5 716.1L1483.5 713.5L1483.5 863.9L1484.5 846.5L1484.5 714.6L1485.5 720.7L1485.5 868.9L1486.5 832.6L1486.5 709.8L1487.5 706.0L1487.5 900.9L1488.5 855.6L1488.5 730.9L1489.5 710.5L1489.5 906.7L1490.5 925.2L1490.5 732.4L1491.5 717.7L1491.5 853.0L1492.5 882.9L1492.5 723.7L1493.5 728.7L1493.5 923.9L1494.5 957.2L1494.5 735.8L1495.5 733.0L1495.5 872.0L1496.5 888.0L1496.5 731.4L1497.5 736.4L1497.5 854.4L1498.5 851.9L1498.5 740.8L1499.5 733.8L1499.5 932.0L1500.5 923.7L1500.5 738.8L1501.5 740.1L1501.5 907.4L1502.5 871.6L1502.5 747.1L1503.5 740.7L1503.5 895.5L1504.5 924.1L1504.5 740.0L1505.5 749.2L1505.5 903.1L1506.5 886.2L1506.5 743.0L1507.5 762.3L1507.5 911.5L1508.5 935.1L1508.5 753.4L1509.5 749.6L1509.5 916.1L1510.5 937.0L1510.5 761.5L1511.5 752.5L1511.5 935.2L1512.5 906.0L1512.5 753.2L1513.5 747.0L1513.5 887.8L1514.5 887.5L1514.5 756.3L1515.5 762.2L1515.5 909.6L1516.5 894.3L1516.5 760.5L1517.5 757.0L1517.5 910.9L1518.5 905.2L1518.5 760.2L1519.5 768.9L1519.5 932.6L1520.5 982.0L1520.5 766.4L1521.5 770.3L1521.5 922.5L1522.5 926.1L1522.5 773.0L1523.5 766.9L1523.5 975.4L1524.5 904.6L1524.5 759.0L1525.5 765.3L1525.5 978.7L1526.5 960.0L1526.5 773.5L1527.5 763.9L1527.5 957.3L1528.5 920.1L1528.5 766.6L1529.5 781.0L1529.5 1032.9L1530.5 933.4L1530.5 780.7L1531.5 793.7L1531.5 959.3L1532.5 1046.0L1532.5 783.3L1533.5 778.1L1533.5 1008.9L1534.5 952.2L1534.5 795.3L1535.5 795.6L1535.5 935.9L1536.5 1016.2L1536.5 795.3L1537.5 798.0L1537.5 1021.8L1538.5 998.9L1538.5 790.8L1539.5 798.5L1539.5 1044.8L1540.5 1038.9L1540.5 801.6L1541.5 800.5L1541.5 1022.7L1542.5 1020.6L1542.5 819.0L1543.5 809.6L1543.5 984.1L1544.5 1034.6L1544.5 805.5L1545.5 801.0L1545.5 1045.2L1546.5 986.2L1546.5 818.2L1547.5 814.5L1547.5 964.5L1548.5 1004.7L1548.5 812.0L1549.5 820.3L1549.5 993.9L1550.5 970.8L1550.5 815.9L1551.5 808.2L1551.5 1038.3L1552.5 1086.7L1552.5 816.7L1553.5 829.0L1553.5 1030.3L1554.5 976.3L1554.5 823.3L1555.5 820.8L1555.5 963.5L1556.5 1006.2L1556.5 811.8L1557.5 821.1L1557.5 1005.4L1558.5 1001.7L1558.5 826.6L1559.5 834.2L1559.5 986.8L1560.5 967.7L1560.5 831.2L1561.5 831.6L1561.5 1033.4L1562.5 978.2L1562.5 836.9L1563.5 833.7L1563.5 983.8L1564.5 1013.5L1564.5 830.5L1565.5 840.0L1565.5 1022.6L1566.5 1079.7L1566.5 836.8L1567.5 835.4L1567.5 1065.4L1568.5 997.4L1568.5 842.3L1569.5 833.4L1569.5 1017.3L1570.5 1066.8L1570.5 856.5L1571.5 846.6L1571.5 1074.5L1572.5 1018.0L1572.5 841.5L1573.5 849.1L1573.5 1091.5L1574.5 1052.2L1574.5 856.3L1575.5 855.5L1575.5 1044.9L1576.5 1039.2L1576.5 847.2L1577.5 859.7L1577.5 1064.9L1578.5 1044.7L1578.5 863.4L1579.5 862.0L1579.5 1084.0L1580.5 1038.6L1580.5 847.0L1581.5 864.0L1581.5 1100.6L1582.5 1051.7L1582.5 866.8L1583.5 855.8L1583.5 1038.5L1584.5 1047.1L1584.5 861.7L1585.5 862.3L1585.5 1067.9L1586.5 1127.9L1586.5 874.0L1587.5 871.5L1587.5 1035.3L1588.5 1067.3L1588.5 873.0L1589.5 878.1L1589.5 1059.1L1590.5 1050.3L1590.5 866.7L1591.5 877.7L1591.5 1063.9L1592.5 1017.7L1592.5 869.0L1593.5 859.8L1593.5 1064.0L1594.5 1034.3L1594.5 877.7L1595.5 856.6L1595.5 1070.5L1596.5 1120.8L1596.5 880.2L1597.5 868.1L1597.5 1052.0L1598.5 1107.5L1598.5 871.3L1599.5 882.5L1599.5 1044.1L1600.5 1014.4L1600.5 864.7L1601.5 876.4L1601.5 1029.9L1602.5 1061.6L1602.5 874.3L1603.5 860.8L1603.5 1072.4L1604.5 1085.3L1604.5 880.8L1605.5 880.3L1605.5 1016.8L1606.5 1070.6L1606.5 879.4L1607.5 870.8L1607.5 1064.6L1608.5 1140.1L1608.5 879.4L1609.5 878.5L1609.5 1051.6L1610.5 1069.2L1610.5 862.7L1611.5 878.3L1611.5 1095.1L1612.5 1098.2L1612.5 875.7L1613.5 873.4L1613.5 1128.5L1614.5 1048.6L1614.5 870.8L1615.5 879.4L1615.5 1058.3L1616.5 1077.8L1616.5 879.2L1617.5 863.5L1617.5 1043.2L1618.5 1112.9L1618.5 884.9L1619.5 876.2L1619.5 1093.0L1620.5 1100.9L1620.5 882.1L1621.5 879.8L1621.5 1043.4L1622.5 1137.8L1622.5 879.6L1623.5 874.1L1623.5 1033.7L1624.5 1088.6L1624.5 886.4L1625.5 895.6L1625.5 1071.3L1626.5 1081.4L1626.5 882.6L1627.5 878.7L1627.5 1049.1L1628.5 1120.5L1628.5 886.2L1629.5 880.4L1629.5 1121.1L1630.5 1048.3L1630.5 882.1L1631.5 870.2L1631.5 1151.9L1632.5 1058.5L1632.5 892.9L1633.5 881.8L1633.5 1102.8L1634.5 1156.3L1634.5 881.9L1635.5 890.3L1635.5 1143.0L1636.5 1092.9L1636.5 885.6L1637.5 863.4L1637.5 1078.4L1638.5 1047.6L1638.5 887.9L1639.5 872.1L1639.5 1109.5L1640.5 1054.1L1640.5 885.5L1641.5 888.8L1641.5 1078.9L1642.5 1071.5L1642.5 884.9L1643.5 887.4L1643.5 1145.8L1644.5 1068.4L1644.5 883.7L1645.5 876.6L1645.5 1074.3L1646.5 1043.4L1646.5 885.4L1647.5 885.9L1647.5 1031.7L1648.5 1086.7L1648.5 884.2L1649.5 878.1L1649.5 1115.1L1650.5 1063.3L1650.5 888.1L1651.5 877.0L1651.5 1090.9L1652.5 1075.3L1652.5 884.3L1653.5 881.0L1653.5 1097.5L1654.5 1096.9L1654.5 883.5L1655.5 887.1L1655.5 1146.5L1656.5 1048.9L1656.5 887.3L1657.5 881.8L1657.5 1082.5L1658.5 1045.7L1658.5 888.1L1659.5 879.9L1659.5 1189.5L1660.5 1076.1L1660.5 878.5L1661.5 887.1L1661.5 1111.9L1662.5 1157.1L1662.5 893.3L1663.5 874.9L1663.5 1137.1L1664.5 1101.7L1664.5 895.6L1665.5 896.7L1665.5 1127.4L1666.5 1108.8L1666.5 882.1L1667.5 888.8L1667.5 1110.0L1668.5 1067.6L1668.5 892.5L1669.5 884.4L1669.5 1115.0L1670.5 1109.2L1670.5 898.5L1671.5 882.1L1671.5 1064.5L1672.5 1076.2L1672.5 883.8L1673.5 887.8L1673.5 1105.2L1674.5 1125.2L1674.5 887.1L1675.5 882.7L1675.5 1069.0L1676.5 1068.6L1676.5 883.7L1677.5 890.9L1677.5 1123.5L1678.5 1172.7L1678.5 881.1L1679.5 884.0L1679.5 1101.4L1680.5 1095.9L1680.5 876.9L1681.5 874.1L1681.5 1085.5L1682.5 1109.5L1682.5 877.2L1683.5 888.4L1683.5 1103.5L1684.5 1091.8L1684.5 880.6L1685.5 898.1L1685.5 1064.0L1686.5 1085.5L1686.5 890.5L1687.5 883.6L1687.5 1130.1L1688.5 1107.3L1688.5 873.4L1689.5 896.3L1689.5 1145.1L1690.5 1117.0L1690.5 879.3L1691.5 891.9L1691.5 1073.0L1692.5 1091.9L1692.5 887.5L1693.5 890.1L1693.5 1135.7L1694.5 1145.5L1694.5 884.6L1695.5 891.1L1695.5 1090.8L1696.5 1060.2L1696.5 897.2L1697.5 892.8L1697.5 1083.6L1698.5 1126.6L1698.5 896.9L1699.5 898.4L1699.5 1112.9L1700.5 1124.0L1700.5 894.1L1701.5 893.8L1701.5 1127.4L1702.5 1062.9L1702.5 894.1L1703.5 891.2L1703.5 1183.7L1704.5 1085.9L1704.5 886.2L1705.5 896.3L1705.5 1127.9L1706.5 1104.1L1706.5 891.4L1707.5 894.5L1707.5 1142.0L1708.5 1124.4L1708.5 895.4L1709.5 893.8L1709.5 1074.6L1710.5 1095.7L1710.5 887.4L1711.5 897.9L1711.5 1120.5L1712.5 1095.6L1712.5 889.6L1713.5 905.1L1713.5 1135.6L1714.5 1115.4L1714.5 894.7L1715.5 901.7L1715.5 1118.7L1716.5 1100.5L1716.5 896.1L1717.5 898.1L1717.5 1138.7L1718.5 1220.0L1718.5 900.7L1719.5 897.5L1719.5 1084.6L1720.5 1120.0L1720.5 893.3L1721.5 906.0L1721.5 1202.3L1722.5 1098.5L1722.5 895.3L1723.5 901.2L1723.5 1078.1L1724.5 1176.1L1724.5 896.8L1725.5 903.9L1725.5 1090.0L1726.5 1234.6L1726.5 902.0L1727.5 894.7L1727.5 1105.9L1728.5 1122.6L1728.5 888.4L1729.5 903.3L1729.5 1185.9L1730.5 1141.6L1730.5 908.0L1731.5 895.8L1731.5 1164.6L1732.5 1077.2L1732.5 911.3L1733.5 900.3L1733.5 1143.9L1734.5 1173.7L1734.5 900.8L1735.5 904.0L1735.5 1083.9L1736.5 1110.2L1736.5 906.9L1737.5 899.2L1737.5 1102.3L1738.5 1107.5L1738.5 905.6L1739.5 902.6L1739.5 1154.1L1740.5 1122.2L1740.5 915.3L1741.5 900.3L1741.5 1175.2L1742.5 1096.1L1742.5 914.7L1743.5 905.8L1743.5 1182.0L1744.5 1109.0L1744.5 901.0L1745.5 910.8L1745.5 1175.8L1746.5 1165.5L1746.5 911.6L1747.5 917.8L1747.5 1117.7L1748.5 1116.5L1748.5 909.0L1749.5 903.5L1749.5 1116.2L1750.5 1116.6L1750.5 915.0L1751.5 907.4L1751.5 1149.6L1752.5 1125.6L1752.5 913.1L1753.5 912.3L1753.5 1258.5L1754.5 1103.8L1754.5 918.9L1755.5 918.5L1755.5 1221.0L1756.5 1149.1L1756.5 914.0L1757.5 921.7L1757.5 1125.1L1758.5 1102.2L1758.5 924.2L1759.5 906.0L1759.5 1166.7L1760.5 1113.5L1760.5 917.4L1761.5 921.0L1761.5 1104.6L1762.5 1240.4L1762.5 922.4L1763.5 925.7L1763.5 1140.0L1764.5 1203.9L1764.5 919.2L1765.5 919.8L1765.5 1116.1L1766.5 1158.8L1766.5 920.2L1767.5 924.8L1767.5 1175.1L1768.5 1147.9L1768.5 923.9L1769.5 930.1L1769.5 1141.9L1770.5 1135.8L1770.5 919.5L1771.5 916.9L1771.5 1213.1L1772.5 1139.8L1772.5 930.0L1773.5 927.7L1773.5 1152.5L1774.5 1146.2L1774.5 921.6L1775.5 922.5L1775.5 1191.5L1776.5 1120.3L1776.5 925.4L1777.5 923.2L1777.5 1129.7L1778.5 1171.9L1778.5 928.0L1779.5 924.1L1779.5 1165.7L1780.5 1131.8L1780.5 937.8L1781.5 933.2L1781.5 1201.6L1782.5 1171.6L1782.5 935.3L1783.5 938.5L1783.5 1176.2L1784.5 1148.2L1784.5 929.6L1785.5 943.1L1785.5 1132.9L1786.5 1166.5L1786.5 939.9L1787.5 933.1L1787.5 1179.9L1788.5 1147.9L1788.5 927.0L1789.5 938.2L1789.5 1223.6L1790.5 1135.5L1790.5 935.2L1791.5 938.7L1791.5 1201.7L1792.5 1177.5L1792.5 937.1L1793.5 938.2L1793.5 1136.3L1794.5 1175.2L1794.5 930.4L1795.5 941.2L1795.5 1138.6L1796.5 1160.8L1796.5 917.1L1797.5 934.6L1797.5 1149.8L1798.5 1138.6L1798.5 942.9L1799.5 936.7L1799.5 1156.3L1800.5 1164.0L1800.5 935.2L1801.5 934.3L1801.5 1161.5L1802.5 1229.4L1802.5 938.2L1803.5 941.0L1803.5 1185.4L1804.5 1158.9L1804.5 941.8L1805.5 939.8L1805.5 1196.5L1806.5 1152.4L1806.5 932.9L1807.5 945.0L1807.5 1287.5L1808.5 1177.6L1808.5 942.4L1809.5 932.6L1809.5 1243.3L1810.5 1140.5L1810.5 934.9L1811.5 939.5L1811.5 1169.6L1812.5 1155.3L1812.5 947.6L1813.5 944.6L1813.5 1165.1L1814.5 1175.3L1814.5 939.4L1815.5 941.6L1815.5 1175.6L1816.5 1185.7L1816.5 943.3L1817.5 946.6L1817.5 1148.3L1818.5 1128.0L1818.5 951.6L1819.5 945.8L1819.5 1169.8L1820.5 1226.9L1820.5 942.3L1821.5 930.1L1821.5 1191.0L1822.5 1182.1L1822.5 940.2L1823.5 945.4L1823.5 1167.6L1824.5 1183.6L1824.5 938.1L1825.5 946.7L1825.5 1221.5L1826.5 1187.1L1826.5 929.9L1827.5 941.2L1827.5 1144.3L1828.5 1201.5L1828.5 950.4L1829.5 947.3L1829.5 1242.8L1830.5 1185.0L1830.5 946.8L1831.5 942.7L1831.5 1194.9L1832.5 1149.4L1832.5 944.4L1833.5 944.4L1833.5 1155.1L1834.5 1184.7L1834.5 943.6L1835.5 949.5L1835.5 1177.1L1836.5 1194.5L1836.5 943.4L1837.5 946.9L1837.5 1291.4L1838.5 1226.5L1838.5 929.9L1839.5 952.0L1839.5 1152.6L1840.5 1162.4L1840.5 949.0L1841.5 939.2L1841.5 1162.2L1842.5 1162.9L1842.5 934.5L1843.5 942.9L1843.5 1205.7L1844.5 1209.0L1844.5 944.7L1845.5 941.4L1845.5 1186.1L1846.5 1177.2L1846.5 941.6L1847.5 931.9L1847.5 1175.2L1848.5 1307.8L1848.5 955.2L1849.5 945.0L1849.5 1203.0L1850.5 1190.4L1850.5 940.1L1851.5 946.5L1851.5 1248.4L1852.5 1193.7L1852.5 943.8L1853.5 946.5L1853.5 1227.4L1854.5 1181.2L1854.5 947.6L1855.5 953.9L1855.5 1161.7L1856.5 1163.4L1856.5 943.4L1857.5 1153.3L1857.5 943.8" stroke="#3953a4" stroke-width="5.6"/>
</g>
<path d="M1272.6 270.6L1565.6 423.3" stroke="#231f20" stroke-width="6.8" fill="none"/>
<path d="M396.0 118.0v18.8M396.0 1449.0v-18.8M483.1 118.0v10.4M483.1 1449.0v-10.4M534.6 118.0v10.4M534.6 1449.0v-10.4M571.2 118.0v10.4M571.2 1449.0v-10.4M599.5 118.0v10.4M599.5 1449.0v-10.4M622.7 118.0v10.4M622.7 1449.0v-10.4M642.3 118.0v10.4M642.3 1449.0v-10.4M659.2 118.0v10.4M659.2 1449.0v-10.4M674.2 118.0v10.4M674.2 1449.0v-10.4M687.6 118.0v10.4M687.6 1449.0v-10.4M775.7 118.0v10.4M775.7 1449.0v-10.4M827.2 118.0v10.4M827.2 1449.0v-10.4M863.8 118.0v10.4M863.8 1449.0v-10.4M892.1 118.0v10.4M892.1 1449.0v-10.4M915.3 118.0v10.4M915.3 1449.0v-10.4M934.9 118.0v10.4M934.9 1449.0v-10.4M951.8 118.0v10.4M951.8 1449.0v-10.4M966.8 118.0v10.4M966.8 1449.0v-10.4M980.2 118.0v18.8M980.2 1449.0v-18.8M1068.3 118.0v10.4M1068.3 1449.0v-10.4M1119.8 118.0v10.4M1119.8 1449.0v-10.4M1156.4 118.0v10.4M1156.4 1449.0v-10.4M1184.7 118.0v10.4M1184.7 1449.0v-10.4M1207.9 118.0v10.4M1207.9 1449.0v-10.4M1227.5 118.0v10.4M1227.5 1449.0v-10.4M1244.4 118.0v10.4M1244.4 1449.0v-10.4M1259.4 118.0v10.4M1259.4 1449.0v-10.4M1272.8 118.0v10.4M1272.8 1449.0v-10.4M1360.9 118.0v10.4M1360.9 1449.0v-10.4M1412.4 118.0v10.4M1412.4 1449.0v-10.4M1449.0 118.0v10.4M1449.0 1449.0v-10.4M1477.3 118.0v10.4M1477.3 1449.0v-10.4M1500.5 118.0v10.4M1500.5 1449.0v-10.4M1520.1 118.0v10.4M1520.1 1449.0v-10.4M1537.0 118.0v10.4M1537.0 1449.0v-10.4M1552.0 118.0v10.4M1552.0 1449.0v-10.4M1565.4 118.0v18.8M1565.4 1449.0v-18.8M1653.5 118.0v10.4M1653.5 1449.0v-10.4M1705.0 118.0v10.4M1705.0 1449.0v-10.4M1741.6 118.0v10.4M1741.6 1449.0v-10.4M1769.9 118.0v10.4M1769.9 1449.0v-10.4M1793.1 118.0v10.4M1793.1 1449.0v-10.4M1812.7 118.0v10.4M1812.7 1449.0v-10.4M1829.6 118.0v10.4M1829.6 1449.0v-10.4M1844.6 118.0v10.4M1844.6 1449.0v-10.4M1858.0 118.0v10.4M1858.0 1449.0v-10.4M1946.1 118.0v10.4M1946.1 1449.0v-10.4M1997.6 118.0v10.4M1997.6 1449.0v-10.4M2034.2 118.0v10.4M2034.2 1449.0v-10.4M2062.5 118.0v10.4M2062.5 1449.0v-10.4M2085.7 118.0v10.4M2085.7 1449.0v-10.4M2105.3 118.0v10.4M2105.3 1449.0v-10.4M2122.2 118.0v10.4M2122.2 1449.0v-10.4M2137.2 118.0v10.4M2137.2 1449.0v-10.4M392.0 445.5h11.4M2151.0 445.5h-10.4M392.0 773.0h19.8M2151.0 773.0h-18.8M392.0 1100.5h11.4M2151.0 1100.5h-10.4M392.0 1428.0h19.8M2151.0 1428.0h-18.8" stroke="#4d4d4f" stroke-width="4.1" fill="none"/>
<rect x="392.0" y="118.0" width="1759.0" height="1331.0" fill="none" stroke="#4d4d4f" stroke-width="4.1"/>
<rect x="1605.8" y="162.2" width="500.4" height="399.8" fill="#ffffff" stroke="#4d4d4f" stroke-width="4.1"/>
<path d="M1621.8 217.5H1789" stroke="#ed1c24" stroke-width="5.0" fill="none"/>
<text transform="translate(1800.3 247.9) scale(1 1.03)" font-size="75" fill="#231f20">Mesh 1</text>
<path d="M1621.8 313.9H1789" stroke="#6abd45" stroke-width="5.6" fill="none"/>
<text transform="translate(1800.3 344.8) scale(1 1.03)" font-size="75" fill="#231f20">Mesh 2</text>
<path d="M1621.8 410.3H1789" stroke="#3953a4" stroke-width="5.0" fill="none"/>
<text transform="translate(1800.3 440.4) scale(1 1.03)" font-size="75" fill="#231f20">Mesh 3</text>
<path d="M1621.8 506.9H1789" stroke="#231f20" stroke-width="6.6" fill="none"/>
<text transform="translate(1800.3 537.4) scale(1 1.03)" font-size="75" fill="#231f20">-7/3 slop</text>
<g fill="#4d4d4f">
<text transform="translate(324.7 164.0) scale(1 1.03)" font-size="83.33" text-anchor="end">10</text>
<text transform="translate(362.8 123.2) scale(1 1.03)" font-size="66.67" text-anchor="end">0</text>
<text transform="translate(265.4 819.0) scale(1 1.03)" font-size="83.33" text-anchor="end">10</text>
<text transform="translate(362.8 778.2) scale(1 1.03)" font-size="66.67" text-anchor="end">-10</text>
<text transform="translate(265.4 1474.0) scale(1 1.03)" font-size="83.33" text-anchor="end">10</text>
<text transform="translate(362.8 1433.2) scale(1 1.03)" font-size="66.67" text-anchor="end">-20</text>
<text transform="translate(317.7 1586.8) scale(1 1.03)" font-size="83.33">10</text>
<text transform="translate(412.4 1546.4) scale(1 1.03)" font-size="66.67">-2</text>
<text transform="translate(914.0 1586.8) scale(1 1.03)" font-size="83.33">10</text>
<text transform="translate(1008.7 1546.4) scale(1 1.03)" font-size="66.67">0</text>
<text transform="translate(1499.2 1586.8) scale(1 1.03)" font-size="83.33">10</text>
<text transform="translate(1593.9 1546.4) scale(1 1.03)" font-size="66.67">2</text>
<text transform="translate(2084.4 1586.8) scale(1 1.03)" font-size="83.33">10</text>
<text transform="translate(2179.1 1546.4) scale(1 1.03)" font-size="66.67">4</text>
<text transform="translate(1271.1 1707.4) scale(1 1.03)" font-size="91.67" text-anchor="middle">f (Hz)</text>
<text transform="translate(132.9 784.4) rotate(-90) scale(1 1.03)" font-size="91.67" text-anchor="middle">PSD</text>
</g>
</svg>
</body>
</html>
